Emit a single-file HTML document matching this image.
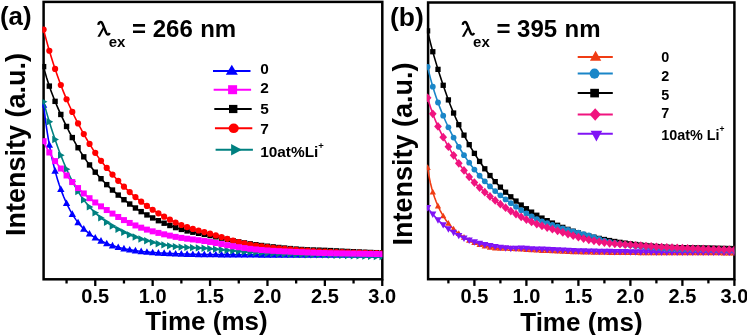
<!DOCTYPE html>
<html><head><meta charset="utf-8"><style>
html,body{margin:0;padding:0;background:#fff;overflow:hidden}
svg{display:block;will-change:transform}
</style></head><body>
<svg width="747" height="335" viewBox="0 0 747 335">
<defs>
<clipPath id="ca"><rect x="42.35" y="1.9" width="339.95" height="277.40"/></clipPath>
<clipPath id="cb"><rect x="426.85" y="2.5" width="307.55" height="276.70"/></clipPath>
</defs>
<rect width="747" height="335" fill="#fff"/>
<rect x="43.6" y="1.9" width="338.70" height="277.40" fill="none" stroke="#000" stroke-width="2.5"/><line x1="66.56" y1="279.3" x2="66.56" y2="283.50" stroke="#000" stroke-width="2.3"/><line x1="95.26" y1="279.3" x2="95.26" y2="286.00" stroke="#000" stroke-width="2.3"/><line x1="123.96" y1="279.3" x2="123.96" y2="283.50" stroke="#000" stroke-width="2.3"/><line x1="152.66" y1="279.3" x2="152.66" y2="286.00" stroke="#000" stroke-width="2.3"/><line x1="181.36" y1="279.3" x2="181.36" y2="283.50" stroke="#000" stroke-width="2.3"/><line x1="210.06" y1="279.3" x2="210.06" y2="286.00" stroke="#000" stroke-width="2.3"/><line x1="238.76" y1="279.3" x2="238.76" y2="283.50" stroke="#000" stroke-width="2.3"/><line x1="267.46" y1="279.3" x2="267.46" y2="286.00" stroke="#000" stroke-width="2.3"/><line x1="296.16" y1="279.3" x2="296.16" y2="283.50" stroke="#000" stroke-width="2.3"/><line x1="324.86" y1="279.3" x2="324.86" y2="286.00" stroke="#000" stroke-width="2.3"/><line x1="353.56" y1="279.3" x2="353.56" y2="283.50" stroke="#000" stroke-width="2.3"/><line x1="382.26" y1="279.3" x2="382.26" y2="286.00" stroke="#000" stroke-width="2.3"/>
<rect x="428.1" y="2.5" width="306.30" height="276.70" fill="none" stroke="#000" stroke-width="2.5"/><line x1="448.40" y1="279.2" x2="448.40" y2="283.40" stroke="#000" stroke-width="2.3"/><line x1="474.40" y1="279.2" x2="474.40" y2="285.90" stroke="#000" stroke-width="2.3"/><line x1="500.40" y1="279.2" x2="500.40" y2="283.40" stroke="#000" stroke-width="2.3"/><line x1="526.40" y1="279.2" x2="526.40" y2="285.90" stroke="#000" stroke-width="2.3"/><line x1="552.40" y1="279.2" x2="552.40" y2="283.40" stroke="#000" stroke-width="2.3"/><line x1="578.40" y1="279.2" x2="578.40" y2="285.90" stroke="#000" stroke-width="2.3"/><line x1="604.40" y1="279.2" x2="604.40" y2="283.40" stroke="#000" stroke-width="2.3"/><line x1="630.40" y1="279.2" x2="630.40" y2="285.90" stroke="#000" stroke-width="2.3"/><line x1="656.40" y1="279.2" x2="656.40" y2="283.40" stroke="#000" stroke-width="2.3"/><line x1="682.40" y1="279.2" x2="682.40" y2="285.90" stroke="#000" stroke-width="2.3"/><line x1="708.40" y1="279.2" x2="708.40" y2="283.40" stroke="#000" stroke-width="2.3"/><line x1="734.40" y1="279.2" x2="734.40" y2="285.90" stroke="#000" stroke-width="2.3"/>
<g clip-path="url(#ca)"><path d="M43.60 104.94 L45.15 117.74 L46.69 128.85 L48.24 138.61 L49.79 147.28 L51.33 155.04 L52.88 162.02 L54.42 168.35 L55.97 174.12 L57.52 179.40 L59.06 184.25 L60.61 188.74 L62.16 192.90 L63.70 196.78 L65.25 200.41 L66.80 203.79 L68.34 206.96 L69.89 209.92 L71.44 212.68 L72.98 215.25 L74.53 217.65 L76.07 219.87 L77.62 221.94 L79.17 223.87 L80.71 225.66 L82.26 227.33 L83.81 228.88 L85.35 230.34 L86.90 231.69 L88.45 232.97 L89.99 234.16 L91.54 235.29 L93.08 236.35 L94.63 237.35 L96.18 238.30 L97.72 239.19 L99.27 240.04 L100.82 240.83 L102.36 241.59 L103.91 242.30 L105.46 242.98 L107.00 243.61 L108.55 244.21 L110.09 244.78 L111.64 245.32 L113.19 245.83 L114.73 246.31 L116.28 246.76 L117.83 247.19 L119.37 247.59 L120.92 247.98 L122.47 248.34 L124.01 248.68 L125.56 249.00 L127.11 249.31 L128.65 249.60 L130.20 249.87 L131.74 250.13 L133.29 250.38 L134.84 250.61 L136.38 250.83 L137.93 251.04 L139.48 251.23 L141.02 251.41 L142.57 251.58 L144.12 251.74 L145.66 251.89 L147.21 252.03 L148.75 252.16 L150.30 252.29 L151.85 252.41 L153.39 252.53 L154.94 252.64 L156.49 252.75 L158.03 252.85 L159.58 252.95 L161.13 253.04 L162.67 253.13 L164.22 253.22 L165.77 253.30 L167.31 253.38 L168.86 253.45 L170.40 253.52 L171.95 253.59 L173.50 253.65 L175.04 253.71 L176.59 253.77 L178.14 253.82 L179.68 253.87 L181.23 253.92 L182.78 253.97 L184.32 254.02 L185.87 254.06 L187.41 254.10 L188.96 254.14 L190.51 254.18 L192.05 254.21 L193.60 254.25 L195.15 254.28 L196.69 254.31 L198.24 254.34 L199.79 254.36 L201.33 254.39 L202.88 254.41 L204.42 254.44 L205.97 254.46 L207.52 254.48 L209.06 254.50 L210.61 254.52 L212.16 254.54 L213.70 254.55 L215.25 254.57 L216.80 254.58 L218.34 254.60 L219.89 254.61 L221.44 254.63 L222.98 254.64 L224.53 254.65 L226.07 254.67 L227.62 254.68 L229.17 254.69 L230.71 254.70 L232.26 254.71 L233.81 254.72 L235.35 254.73 L236.90 254.74 L238.45 254.75 L239.99 254.76 L241.54 254.76 L243.08 254.77 L244.63 254.78 L246.18 254.78 L247.72 254.79 L249.27 254.80 L250.82 254.80 L252.36 254.81 L253.91 254.81 L255.46 254.82 L257.00 254.82 L258.55 254.83 L260.09 254.83 L261.64 254.84 L263.19 254.84 L264.73 254.85 L266.28 254.85 L267.83 254.85 L269.37 254.86 L270.92 254.86 L272.47 254.86 L274.01 254.87 L275.56 254.87 L277.11 254.87 L278.65 254.87 L280.20 254.88 L281.74 254.88 L283.29 254.88 L284.84 254.88 L286.38 254.88 L287.93 254.89 L289.48 254.89 L291.02 254.89 L292.57 254.89 L294.12 254.89 L295.66 254.89 L297.21 254.90 L298.75 254.90 L300.30 254.90 L301.85 254.90 L303.39 254.90 L304.94 254.90 L306.49 254.90 L308.03 254.90 L309.58 254.90 L311.13 254.90 L312.67 254.90 L314.22 254.90 L315.77 254.90 L317.31 254.90 L318.86 254.90 L320.40 254.89 L321.95 254.89 L323.50 254.89 L325.04 254.89 L326.59 254.89 L328.14 254.89 L329.68 254.89 L331.23 254.89 L332.78 254.89 L334.32 254.89 L335.87 254.89 L337.41 254.89 L338.96 254.89 L340.51 254.89 L342.05 254.89 L343.60 254.90 L345.15 254.90 L346.69 254.90 L348.24 254.90 L349.79 254.90 L351.33 254.90 L352.88 254.90 L354.42 254.90 L355.97 254.90 L357.52 254.90 L359.06 254.90 L360.61 254.90 L362.16 254.90 L363.70 254.90 L365.25 254.90 L366.80 254.90 L368.34 254.90 L369.89 254.90 L371.44 254.90 L372.98 254.90 L374.53 254.90 L376.07 254.90 L377.62 254.90 L379.17 254.90 L380.71 254.90 L382.26 254.90" fill="none" stroke="#0000ff" stroke-width="1.6" stroke-linejoin="round"/><path d="M43.60 101.09L47.27 107.74L39.93 107.74Z" fill="#0000ff"/><path d="M49.34 141.03L53.02 147.68L45.67 147.68Z" fill="#0000ff"/><path d="M55.08 167.01L58.75 173.66L51.41 173.66Z" fill="#0000ff"/><path d="M60.82 185.47L64.50 192.12L57.15 192.12Z" fill="#0000ff"/><path d="M66.56 199.44L70.23 206.09L62.89 206.09Z" fill="#0000ff"/><path d="M72.30 210.29L75.98 216.94L68.63 216.94Z" fill="#0000ff"/><path d="M78.04 218.63L81.71 225.28L74.36 225.28Z" fill="#0000ff"/><path d="M83.78 225.01L87.45 231.66L80.11 231.66Z" fill="#0000ff"/><path d="M89.52 229.96L93.19 236.61L85.84 236.61Z" fill="#0000ff"/><path d="M95.26 233.89L98.93 240.54L91.58 240.54Z" fill="#0000ff"/><path d="M101.00 237.08L104.67 243.73L97.33 243.73Z" fill="#0000ff"/><path d="M106.74 239.66L110.42 246.31L103.07 246.31Z" fill="#0000ff"/><path d="M112.48 241.75L116.16 248.40L108.81 248.40Z" fill="#0000ff"/><path d="M118.22 243.44L121.89 250.09L114.55 250.09Z" fill="#0000ff"/><path d="M123.96 244.82L127.63 251.47L120.28 251.47Z" fill="#0000ff"/><path d="M129.70 245.94L133.38 252.59L126.02 252.59Z" fill="#0000ff"/><path d="M135.44 246.85L139.12 253.50L131.76 253.50Z" fill="#0000ff"/><path d="M141.18 247.58L144.86 254.23L137.50 254.23Z" fill="#0000ff"/><path d="M146.92 248.15L150.60 254.80L143.25 254.80Z" fill="#0000ff"/><path d="M152.66 248.63L156.34 255.28L148.98 255.28Z" fill="#0000ff"/><path d="M158.40 249.03L162.08 255.68L154.72 255.68Z" fill="#0000ff"/><path d="M164.14 249.36L167.81 256.01L160.46 256.01Z" fill="#0000ff"/><path d="M169.88 249.65L173.56 256.30L166.20 256.30Z" fill="#0000ff"/><path d="M175.62 249.88L179.30 256.53L171.94 256.53Z" fill="#0000ff"/><path d="M181.36 250.08L185.04 256.73L177.69 256.73Z" fill="#0000ff"/><path d="M187.10 250.24L190.78 256.89L183.43 256.89Z" fill="#0000ff"/><path d="M192.84 250.38L196.52 257.03L189.17 257.03Z" fill="#0000ff"/><path d="M198.58 250.49L202.25 257.14L194.90 257.14Z" fill="#0000ff"/><path d="M204.32 250.59L208.00 257.24L200.64 257.24Z" fill="#0000ff"/><path d="M210.06 250.66L213.74 257.31L206.38 257.31Z" fill="#0000ff"/><path d="M215.80 250.72L219.48 257.37L212.12 257.37Z" fill="#0000ff"/><path d="M221.54 250.78L225.22 257.43L217.87 257.43Z" fill="#0000ff"/><path d="M227.28 250.83L230.96 257.48L223.61 257.48Z" fill="#0000ff"/><path d="M233.02 250.87L236.70 257.52L229.35 257.52Z" fill="#0000ff"/><path d="M238.76 250.90L242.44 257.55L235.08 257.55Z" fill="#0000ff"/><path d="M244.50 250.93L248.18 257.58L240.82 257.58Z" fill="#0000ff"/><path d="M250.24 250.95L253.92 257.60L246.56 257.60Z" fill="#0000ff"/><path d="M255.98 250.97L259.66 257.62L252.31 257.62Z" fill="#0000ff"/><path d="M261.72 250.99L265.40 257.64L258.05 257.64Z" fill="#0000ff"/><path d="M267.46 251.00L271.13 257.65L263.78 257.65Z" fill="#0000ff"/><path d="M273.20 251.01L276.88 257.66L269.53 257.66Z" fill="#0000ff"/><path d="M278.94 251.02L282.62 257.67L275.26 257.67Z" fill="#0000ff"/><path d="M284.68 251.03L288.36 257.68L281.00 257.68Z" fill="#0000ff"/><path d="M290.42 251.04L294.10 257.69L286.75 257.69Z" fill="#0000ff"/><path d="M296.16 251.04L299.84 257.69L292.49 257.69Z" fill="#0000ff"/><path d="M301.90 251.05L305.58 257.70L298.23 257.70Z" fill="#0000ff"/><path d="M307.64 251.05L311.32 257.70L303.97 257.70Z" fill="#0000ff"/><path d="M313.38 251.05L317.06 257.70L309.71 257.70Z" fill="#0000ff"/><path d="M319.12 251.04L322.80 257.69L315.44 257.69Z" fill="#0000ff"/><path d="M324.86 251.04L328.54 257.69L321.19 257.69Z" fill="#0000ff"/><path d="M330.60 251.04L334.28 257.69L326.93 257.69Z" fill="#0000ff"/><path d="M336.34 251.04L340.02 257.69L332.67 257.69Z" fill="#0000ff"/><path d="M342.08 251.05L345.76 257.70L338.41 257.70Z" fill="#0000ff"/><path d="M347.82 251.05L351.50 257.70L344.15 257.70Z" fill="#0000ff"/><path d="M353.56 251.05L357.24 257.70L349.88 257.70Z" fill="#0000ff"/><path d="M359.30 251.05L362.98 257.70L355.62 257.70Z" fill="#0000ff"/><path d="M365.04 251.05L368.72 257.70L361.37 257.70Z" fill="#0000ff"/><path d="M370.78 251.05L374.46 257.70L367.11 257.70Z" fill="#0000ff"/><path d="M376.52 251.05L380.20 257.70L372.85 257.70Z" fill="#0000ff"/><path d="M382.26 251.05L385.94 257.70L378.58 257.70Z" fill="#0000ff"/></g>
<g clip-path="url(#ca)"><path d="M43.60 101.73 L45.15 107.41 L46.69 112.86 L48.24 118.12 L49.79 123.22 L51.33 128.16 L52.88 132.95 L54.42 137.60 L55.97 142.11 L57.52 146.46 L59.06 150.66 L60.61 154.73 L62.16 158.66 L63.70 162.46 L65.25 166.14 L66.80 169.69 L68.34 173.11 L69.89 176.40 L71.44 179.56 L72.98 182.58 L74.53 185.46 L76.07 188.19 L77.62 190.79 L79.17 193.26 L80.71 195.59 L82.26 197.82 L83.81 199.93 L85.35 201.94 L86.90 203.86 L88.45 205.69 L89.99 207.44 L91.54 209.11 L93.08 210.72 L94.63 212.25 L96.18 213.72 L97.72 215.13 L99.27 216.47 L100.82 217.76 L102.36 219.00 L103.91 220.19 L105.46 221.33 L107.00 222.43 L108.55 223.48 L110.09 224.50 L111.64 225.48 L113.19 226.43 L114.73 227.35 L116.28 228.23 L117.83 229.09 L119.37 229.92 L120.92 230.73 L122.47 231.50 L124.01 232.26 L125.56 232.98 L127.11 233.68 L128.65 234.36 L130.20 235.01 L131.74 235.64 L133.29 236.24 L134.84 236.83 L136.38 237.39 L137.93 237.94 L139.48 238.46 L141.02 238.97 L142.57 239.47 L144.12 239.94 L145.66 240.41 L147.21 240.86 L148.75 241.30 L150.30 241.73 L151.85 242.14 L153.39 242.54 L154.94 242.93 L156.49 243.30 L158.03 243.65 L159.58 243.99 L161.13 244.31 L162.67 244.62 L164.22 244.91 L165.77 245.19 L167.31 245.45 L168.86 245.70 L170.40 245.93 L171.95 246.14 L173.50 246.34 L175.04 246.53 L176.59 246.69 L178.14 246.84 L179.68 246.98 L181.23 247.09 L182.78 247.20 L184.32 247.29 L185.87 247.37 L187.41 247.44 L188.96 247.50 L190.51 247.56 L192.05 247.63 L193.60 247.69 L195.15 247.76 L196.69 247.83 L198.24 247.90 L199.79 247.98 L201.33 248.07 L202.88 248.16 L204.42 248.26 L205.97 248.37 L207.52 248.48 L209.06 248.59 L210.61 248.71 L212.16 248.84 L213.70 248.97 L215.25 249.11 L216.80 249.25 L218.34 249.40 L219.89 249.54 L221.44 249.70 L222.98 249.85 L224.53 250.00 L226.07 250.16 L227.62 250.31 L229.17 250.47 L230.71 250.62 L232.26 250.77 L233.81 250.91 L235.35 251.06 L236.90 251.19 L238.45 251.33 L239.99 251.46 L241.54 251.59 L243.08 251.71 L244.63 251.82 L246.18 251.94 L247.72 252.05 L249.27 252.16 L250.82 252.26 L252.36 252.36 L253.91 252.46 L255.46 252.55 L257.00 252.64 L258.55 252.73 L260.09 252.82 L261.64 252.90 L263.19 252.99 L264.73 253.07 L266.28 253.15 L267.83 253.23 L269.37 253.30 L270.92 253.38 L272.47 253.45 L274.01 253.52 L275.56 253.60 L277.11 253.67 L278.65 253.74 L280.20 253.81 L281.74 253.87 L283.29 253.94 L284.84 254.01 L286.38 254.07 L287.93 254.14 L289.48 254.20 L291.02 254.26 L292.57 254.32 L294.12 254.38 L295.66 254.44 L297.21 254.49 L298.75 254.54 L300.30 254.59 L301.85 254.64 L303.39 254.68 L304.94 254.71 L306.49 254.74 L308.03 254.76 L309.58 254.78 L311.13 254.79 L312.67 254.80 L314.22 254.81 L315.77 254.81 L317.31 254.82 L318.86 254.83 L320.40 254.84 L321.95 254.86 L323.50 254.88 L325.04 254.91 L326.59 254.94 L328.14 254.98 L329.68 255.01 L331.23 255.05 L332.78 255.10 L334.32 255.14 L335.87 255.19 L337.41 255.23 L338.96 255.28 L340.51 255.33 L342.05 255.38 L343.60 255.43 L345.15 255.48 L346.69 255.53 L348.24 255.58 L349.79 255.63 L351.33 255.68 L352.88 255.73 L354.42 255.78 L355.97 255.83 L357.52 255.88 L359.06 255.93 L360.61 255.98 L362.16 256.03 L363.70 256.08 L365.25 256.13 L366.80 256.18 L368.34 256.23 L369.89 256.28 L371.44 256.33 L372.98 256.38 L374.53 256.43 L376.07 256.48 L377.62 256.53 L379.17 256.57 L380.71 256.62 L382.26 256.67" fill="none" stroke="#008080" stroke-width="1.6" stroke-linejoin="round"/><path d="M47.45 101.73L40.80 98.06L40.80 105.41Z" fill="#008080"/><path d="M53.19 121.76L46.54 118.09L46.54 125.44Z" fill="#008080"/><path d="M58.93 139.53L52.28 135.86L52.28 143.21Z" fill="#008080"/><path d="M64.67 155.27L58.02 151.59L58.02 158.94Z" fill="#008080"/><path d="M70.41 169.15L63.76 165.48L63.76 172.83Z" fill="#008080"/><path d="M76.15 181.27L69.50 177.59L69.50 184.94Z" fill="#008080"/><path d="M81.89 191.47L75.24 187.80L75.24 195.15Z" fill="#008080"/><path d="M87.63 199.89L80.98 196.22L80.98 203.57Z" fill="#008080"/><path d="M93.37 206.91L86.72 203.24L86.72 210.59Z" fill="#008080"/><path d="M99.11 212.86L92.46 209.18L92.46 216.53Z" fill="#008080"/><path d="M104.85 217.91L98.20 214.24L98.20 221.59Z" fill="#008080"/><path d="M110.59 222.24L103.94 218.57L103.94 225.92Z" fill="#008080"/><path d="M116.33 226.00L109.68 222.32L109.68 229.67Z" fill="#008080"/><path d="M122.07 229.31L115.42 225.63L115.42 232.98Z" fill="#008080"/><path d="M127.81 232.23L121.16 228.56L121.16 235.91Z" fill="#008080"/><path d="M133.55 234.80L126.90 231.13L126.90 238.48Z" fill="#008080"/><path d="M139.29 237.05L132.64 233.37L132.64 240.72Z" fill="#008080"/><path d="M145.03 239.02L138.38 235.35L138.38 242.70Z" fill="#008080"/><path d="M150.77 240.78L144.12 237.10L144.12 244.45Z" fill="#008080"/><path d="M156.51 242.36L149.86 238.68L149.86 246.03Z" fill="#008080"/><path d="M162.25 243.73L155.60 240.06L155.60 247.41Z" fill="#008080"/><path d="M167.99 244.90L161.34 241.22L161.34 248.57Z" fill="#008080"/><path d="M173.73 245.85L167.08 242.18L167.08 249.53Z" fill="#008080"/><path d="M179.47 246.59L172.82 242.92L172.82 250.27Z" fill="#008080"/><path d="M185.21 247.10L178.56 243.43L178.56 250.78Z" fill="#008080"/><path d="M190.95 247.42L184.30 243.75L184.30 251.10Z" fill="#008080"/><path d="M196.69 247.66L190.04 243.98L190.04 251.33Z" fill="#008080"/><path d="M202.43 247.92L195.78 244.24L195.78 251.59Z" fill="#008080"/><path d="M208.17 248.25L201.52 244.58L201.52 251.93Z" fill="#008080"/><path d="M213.91 248.67L207.26 245.00L207.26 252.35Z" fill="#008080"/><path d="M219.65 249.16L213.00 245.48L213.00 252.83Z" fill="#008080"/><path d="M225.39 249.71L218.74 246.03L218.74 253.38Z" fill="#008080"/><path d="M231.13 250.28L224.48 246.61L224.48 253.96Z" fill="#008080"/><path d="M236.87 250.84L230.22 247.17L230.22 254.52Z" fill="#008080"/><path d="M242.61 251.36L235.96 247.68L235.96 255.03Z" fill="#008080"/><path d="M248.35 251.81L241.70 248.14L241.70 255.49Z" fill="#008080"/><path d="M254.09 252.22L247.44 248.55L247.44 255.90Z" fill="#008080"/><path d="M259.83 252.58L253.18 248.91L253.18 256.26Z" fill="#008080"/><path d="M265.57 252.91L258.92 249.23L258.92 256.58Z" fill="#008080"/><path d="M271.31 253.21L264.66 249.53L264.66 256.88Z" fill="#008080"/><path d="M277.05 253.49L270.40 249.81L270.40 257.16Z" fill="#008080"/><path d="M282.79 253.75L276.14 250.08L276.14 257.43Z" fill="#008080"/><path d="M288.53 254.00L281.88 250.33L281.88 257.68Z" fill="#008080"/><path d="M294.27 254.24L287.62 250.56L287.62 257.91Z" fill="#008080"/><path d="M300.01 254.46L293.36 250.78L293.36 258.13Z" fill="#008080"/><path d="M305.75 254.64L299.10 250.96L299.10 258.31Z" fill="#008080"/><path d="M311.49 254.76L304.84 251.08L304.84 258.43Z" fill="#008080"/><path d="M317.23 254.80L310.58 251.13L310.58 258.48Z" fill="#008080"/><path d="M322.97 254.83L316.32 251.16L316.32 258.51Z" fill="#008080"/><path d="M328.71 254.91L322.06 251.23L322.06 258.58Z" fill="#008080"/><path d="M334.45 255.04L327.80 251.36L327.80 258.71Z" fill="#008080"/><path d="M340.19 255.20L333.54 251.53L333.54 258.88Z" fill="#008080"/><path d="M345.93 255.38L339.28 251.71L339.28 259.06Z" fill="#008080"/><path d="M351.67 255.57L345.02 251.89L345.02 259.24Z" fill="#008080"/><path d="M357.41 255.75L350.76 252.08L350.76 259.43Z" fill="#008080"/><path d="M363.15 255.94L356.50 252.27L356.50 259.62Z" fill="#008080"/><path d="M368.89 256.13L362.24 252.45L362.24 259.80Z" fill="#008080"/><path d="M374.63 256.31L367.98 252.63L367.98 259.98Z" fill="#008080"/><path d="M380.37 256.49L373.72 252.82L373.72 260.17Z" fill="#008080"/><path d="M386.11 256.67L379.46 253.00L379.46 260.35Z" fill="#008080"/></g>
<g clip-path="url(#ca)"><path d="M43.60 66.66 L45.15 72.61 L46.69 77.93 L48.24 82.83 L49.79 87.40 L51.33 91.72 L52.88 95.82 L54.42 99.73 L55.97 103.48 L57.52 107.10 L59.06 110.60 L60.61 114.00 L62.16 117.33 L63.70 120.59 L65.25 123.79 L66.80 126.93 L68.34 130.00 L69.89 133.02 L71.44 135.96 L72.98 138.84 L74.53 141.65 L76.07 144.38 L77.62 147.04 L79.17 149.62 L80.71 152.12 L82.26 154.54 L83.81 156.88 L85.35 159.16 L86.90 161.36 L88.45 163.49 L89.99 165.56 L91.54 167.58 L93.08 169.53 L94.63 171.43 L96.18 173.27 L97.72 175.06 L99.27 176.81 L100.82 178.51 L102.36 180.16 L103.91 181.78 L105.46 183.35 L107.00 184.89 L108.55 186.39 L110.09 187.86 L111.64 189.30 L113.19 190.70 L114.73 192.08 L116.28 193.43 L117.83 194.75 L119.37 196.04 L120.92 197.31 L122.47 198.55 L124.01 199.77 L125.56 200.96 L127.11 202.13 L128.65 203.27 L130.20 204.39 L131.74 205.48 L133.29 206.55 L134.84 207.59 L136.38 208.61 L137.93 209.61 L139.48 210.58 L141.02 211.52 L142.57 212.45 L144.12 213.35 L145.66 214.22 L147.21 215.08 L148.75 215.91 L150.30 216.73 L151.85 217.52 L153.39 218.30 L154.94 219.06 L156.49 219.80 L158.03 220.52 L159.58 221.22 L161.13 221.91 L162.67 222.58 L164.22 223.24 L165.77 223.88 L167.31 224.51 L168.86 225.12 L170.40 225.71 L171.95 226.29 L173.50 226.85 L175.04 227.39 L176.59 227.92 L178.14 228.42 L179.68 228.91 L181.23 229.38 L182.78 229.82 L184.32 230.24 L185.87 230.64 L187.41 231.02 L188.96 231.37 L190.51 231.71 L192.05 232.04 L193.60 232.35 L195.15 232.65 L196.69 232.95 L198.24 233.24 L199.79 233.53 L201.33 233.83 L202.88 234.13 L204.42 234.43 L205.97 234.74 L207.52 235.06 L209.06 235.38 L210.61 235.70 L212.16 236.03 L213.70 236.37 L215.25 236.71 L216.80 237.06 L218.34 237.41 L219.89 237.76 L221.44 238.11 L222.98 238.46 L224.53 238.82 L226.07 239.17 L227.62 239.52 L229.17 239.86 L230.71 240.20 L232.26 240.53 L233.81 240.86 L235.35 241.18 L236.90 241.49 L238.45 241.80 L239.99 242.09 L241.54 242.38 L243.08 242.66 L244.63 242.94 L246.18 243.20 L247.72 243.46 L249.27 243.71 L250.82 243.95 L252.36 244.19 L253.91 244.42 L255.46 244.65 L257.00 244.86 L258.55 245.08 L260.09 245.29 L261.64 245.49 L263.19 245.69 L264.73 245.89 L266.28 246.08 L267.83 246.26 L269.37 246.44 L270.92 246.62 L272.47 246.80 L274.01 246.97 L275.56 247.14 L277.11 247.30 L278.65 247.46 L280.20 247.62 L281.74 247.77 L283.29 247.93 L284.84 248.08 L286.38 248.22 L287.93 248.36 L289.48 248.50 L291.02 248.64 L292.57 248.77 L294.12 248.90 L295.66 249.03 L297.21 249.15 L298.75 249.26 L300.30 249.37 L301.85 249.48 L303.39 249.57 L304.94 249.66 L306.49 249.74 L308.03 249.81 L309.58 249.87 L311.13 249.92 L312.67 249.97 L314.22 250.01 L315.77 250.05 L317.31 250.09 L318.86 250.14 L320.40 250.18 L321.95 250.23 L323.50 250.29 L325.04 250.35 L326.59 250.41 L328.14 250.48 L329.68 250.55 L331.23 250.63 L332.78 250.70 L334.32 250.78 L335.87 250.86 L337.41 250.93 L338.96 251.01 L340.51 251.09 L342.05 251.16 L343.60 251.24 L345.15 251.32 L346.69 251.39 L348.24 251.47 L349.79 251.54 L351.33 251.61 L352.88 251.69 L354.42 251.76 L355.97 251.83 L357.52 251.90 L359.06 251.96 L360.61 252.03 L362.16 252.10 L363.70 252.16 L365.25 252.23 L366.80 252.29 L368.34 252.36 L369.89 252.42 L371.44 252.48 L372.98 252.54 L374.53 252.60 L376.07 252.66 L377.62 252.71 L379.17 252.77 L380.71 252.83 L382.26 252.88" fill="none" stroke="#000000" stroke-width="1.6" stroke-linejoin="round"/><rect x="40.90" y="63.96" width="5.40" height="5.40" fill="#000000"/><rect x="46.64" y="83.41" width="5.40" height="5.40" fill="#000000"/><rect x="52.38" y="98.64" width="5.40" height="5.40" fill="#000000"/><rect x="58.12" y="111.76" width="5.40" height="5.40" fill="#000000"/><rect x="63.86" y="123.75" width="5.40" height="5.40" fill="#000000"/><rect x="69.60" y="134.88" width="5.40" height="5.40" fill="#000000"/><rect x="75.34" y="145.04" width="5.40" height="5.40" fill="#000000"/><rect x="81.08" y="154.14" width="5.40" height="5.40" fill="#000000"/><rect x="86.82" y="162.24" width="5.40" height="5.40" fill="#000000"/><rect x="92.56" y="169.48" width="5.40" height="5.40" fill="#000000"/><rect x="98.30" y="176.01" width="5.40" height="5.40" fill="#000000"/><rect x="104.04" y="181.93" width="5.40" height="5.40" fill="#000000"/><rect x="109.78" y="187.36" width="5.40" height="5.40" fill="#000000"/><rect x="115.52" y="192.38" width="5.40" height="5.40" fill="#000000"/><rect x="121.26" y="197.03" width="5.40" height="5.40" fill="#000000"/><rect x="127.00" y="201.33" width="5.40" height="5.40" fill="#000000"/><rect x="132.74" y="205.29" width="5.40" height="5.40" fill="#000000"/><rect x="138.48" y="208.92" width="5.40" height="5.40" fill="#000000"/><rect x="144.22" y="212.22" width="5.40" height="5.40" fill="#000000"/><rect x="149.96" y="215.23" width="5.40" height="5.40" fill="#000000"/><rect x="155.70" y="217.99" width="5.40" height="5.40" fill="#000000"/><rect x="161.44" y="220.51" width="5.40" height="5.40" fill="#000000"/><rect x="167.18" y="222.81" width="5.40" height="5.40" fill="#000000"/><rect x="172.92" y="224.89" width="5.40" height="5.40" fill="#000000"/><rect x="178.66" y="226.71" width="5.40" height="5.40" fill="#000000"/><rect x="184.40" y="228.24" width="5.40" height="5.40" fill="#000000"/><rect x="190.14" y="229.50" width="5.40" height="5.40" fill="#000000"/><rect x="195.88" y="230.61" width="5.40" height="5.40" fill="#000000"/><rect x="201.62" y="231.71" width="5.40" height="5.40" fill="#000000"/><rect x="207.36" y="232.88" width="5.40" height="5.40" fill="#000000"/><rect x="213.10" y="234.13" width="5.40" height="5.40" fill="#000000"/><rect x="218.84" y="235.43" width="5.40" height="5.40" fill="#000000"/><rect x="224.58" y="236.74" width="5.40" height="5.40" fill="#000000"/><rect x="230.32" y="238.00" width="5.40" height="5.40" fill="#000000"/><rect x="236.06" y="239.16" width="5.40" height="5.40" fill="#000000"/><rect x="241.80" y="240.21" width="5.40" height="5.40" fill="#000000"/><rect x="247.54" y="241.16" width="5.40" height="5.40" fill="#000000"/><rect x="253.28" y="242.02" width="5.40" height="5.40" fill="#000000"/><rect x="259.02" y="242.80" width="5.40" height="5.40" fill="#000000"/><rect x="264.76" y="243.52" width="5.40" height="5.40" fill="#000000"/><rect x="270.50" y="244.18" width="5.40" height="5.40" fill="#000000"/><rect x="276.24" y="244.79" width="5.40" height="5.40" fill="#000000"/><rect x="281.98" y="245.36" width="5.40" height="5.40" fill="#000000"/><rect x="287.72" y="245.89" width="5.40" height="5.40" fill="#000000"/><rect x="293.46" y="246.37" width="5.40" height="5.40" fill="#000000"/><rect x="299.20" y="246.78" width="5.40" height="5.40" fill="#000000"/><rect x="304.94" y="247.09" width="5.40" height="5.40" fill="#000000"/><rect x="310.68" y="247.29" width="5.40" height="5.40" fill="#000000"/><rect x="316.42" y="247.44" width="5.40" height="5.40" fill="#000000"/><rect x="322.16" y="247.64" width="5.40" height="5.40" fill="#000000"/><rect x="327.90" y="247.90" width="5.40" height="5.40" fill="#000000"/><rect x="333.64" y="248.18" width="5.40" height="5.40" fill="#000000"/><rect x="339.38" y="248.47" width="5.40" height="5.40" fill="#000000"/><rect x="345.12" y="248.75" width="5.40" height="5.40" fill="#000000"/><rect x="350.86" y="249.02" width="5.40" height="5.40" fill="#000000"/><rect x="356.60" y="249.27" width="5.40" height="5.40" fill="#000000"/><rect x="362.34" y="249.52" width="5.40" height="5.40" fill="#000000"/><rect x="368.08" y="249.75" width="5.40" height="5.40" fill="#000000"/><rect x="373.82" y="249.97" width="5.40" height="5.40" fill="#000000"/><rect x="379.56" y="250.18" width="5.40" height="5.40" fill="#000000"/></g>
<g clip-path="url(#ca)"><path d="M43.60 29.58 L45.15 35.63 L46.69 41.41 L48.24 46.95 L49.79 52.25 L51.33 57.34 L52.88 62.25 L54.42 66.98 L55.97 71.55 L57.52 75.98 L59.06 80.28 L60.61 84.44 L62.16 88.46 L63.70 92.36 L65.25 96.13 L66.80 99.78 L68.34 103.31 L69.89 106.74 L71.44 110.08 L72.98 113.32 L74.53 116.49 L76.07 119.58 L77.62 122.60 L79.17 125.56 L80.71 128.46 L82.26 131.30 L83.81 134.09 L85.35 136.82 L86.90 139.49 L88.45 142.11 L89.99 144.66 L91.54 147.15 L93.08 149.57 L94.63 151.92 L96.18 154.19 L97.72 156.38 L99.27 158.51 L100.82 160.57 L102.36 162.56 L103.91 164.51 L105.46 166.41 L107.00 168.26 L108.55 170.08 L110.09 171.87 L111.64 173.62 L113.19 175.35 L114.73 177.05 L116.28 178.72 L117.83 180.37 L119.37 181.99 L120.92 183.59 L122.47 185.15 L124.01 186.69 L125.56 188.20 L127.11 189.68 L128.65 191.13 L130.20 192.54 L131.74 193.93 L133.29 195.28 L134.84 196.60 L136.38 197.89 L137.93 199.14 L139.48 200.37 L141.02 201.57 L142.57 202.74 L144.12 203.88 L145.66 205.00 L147.21 206.09 L148.75 207.16 L150.30 208.21 L151.85 209.23 L153.39 210.23 L154.94 211.22 L156.49 212.18 L158.03 213.12 L159.58 214.04 L161.13 214.95 L162.67 215.84 L164.22 216.70 L165.77 217.55 L167.31 218.38 L168.86 219.19 L170.40 219.99 L171.95 220.76 L173.50 221.51 L175.04 222.24 L176.59 222.95 L178.14 223.64 L179.68 224.30 L181.23 224.94 L182.78 225.55 L184.32 226.13 L185.87 226.69 L187.41 227.22 L188.96 227.72 L190.51 228.21 L192.05 228.67 L193.60 229.12 L195.15 229.56 L196.69 229.99 L198.24 230.41 L199.79 230.83 L201.33 231.25 L202.88 231.68 L204.42 232.10 L205.97 232.53 L207.52 232.97 L209.06 233.41 L210.61 233.85 L212.16 234.30 L213.70 234.76 L215.25 235.22 L216.80 235.68 L218.34 236.15 L219.89 236.62 L221.44 237.09 L222.98 237.56 L224.53 238.02 L226.07 238.49 L227.62 238.94 L229.17 239.40 L230.71 239.84 L232.26 240.28 L233.81 240.70 L235.35 241.12 L236.90 241.52 L238.45 241.91 L239.99 242.29 L241.54 242.65 L243.08 243.01 L244.63 243.35 L246.18 243.68 L247.72 244.00 L249.27 244.31 L250.82 244.61 L252.36 244.89 L253.91 245.17 L255.46 245.43 L257.00 245.69 L258.55 245.93 L260.09 246.17 L261.64 246.39 L263.19 246.61 L264.73 246.82 L266.28 247.02 L267.83 247.22 L269.37 247.41 L270.92 247.59 L272.47 247.76 L274.01 247.93 L275.56 248.09 L277.11 248.25 L278.65 248.41 L280.20 248.55 L281.74 248.70 L283.29 248.84 L284.84 248.98 L286.38 249.12 L287.93 249.25 L289.48 249.38 L291.02 249.50 L292.57 249.62 L294.12 249.74 L295.66 249.86 L297.21 249.97 L298.75 250.08 L300.30 250.19 L301.85 250.29 L303.39 250.39 L304.94 250.49 L306.49 250.59 L308.03 250.68 L309.58 250.77 L311.13 250.85 L312.67 250.94 L314.22 251.02 L315.77 251.10 L317.31 251.18 L318.86 251.25 L320.40 251.33 L321.95 251.40 L323.50 251.47 L325.04 251.53 L326.59 251.60 L328.14 251.66 L329.68 251.73 L331.23 251.79 L332.78 251.85 L334.32 251.91 L335.87 251.96 L337.41 252.02 L338.96 252.07 L340.51 252.13 L342.05 252.18 L343.60 252.23 L345.15 252.28 L346.69 252.33 L348.24 252.38 L349.79 252.43 L351.33 252.48 L352.88 252.53 L354.42 252.57 L355.97 252.62 L357.52 252.66 L359.06 252.70 L360.61 252.75 L362.16 252.79 L363.70 252.83 L365.25 252.87 L366.80 252.91 L368.34 252.95 L369.89 252.99 L371.44 253.03 L372.98 253.07 L374.53 253.10 L376.07 253.14 L377.62 253.18 L379.17 253.21 L380.71 253.25 L382.26 253.28" fill="none" stroke="#ff0000" stroke-width="1.6" stroke-linejoin="round"/><circle cx="43.60" cy="29.58" r="3.10" fill="#ff0000"/><circle cx="49.34" cy="50.74" r="3.10" fill="#ff0000"/><circle cx="55.08" cy="68.94" r="3.10" fill="#ff0000"/><circle cx="60.82" cy="84.99" r="3.10" fill="#ff0000"/><circle cx="66.56" cy="99.23" r="3.10" fill="#ff0000"/><circle cx="72.30" cy="111.90" r="3.10" fill="#ff0000"/><circle cx="78.04" cy="123.41" r="3.10" fill="#ff0000"/><circle cx="83.78" cy="134.04" r="3.10" fill="#ff0000"/><circle cx="89.52" cy="143.89" r="3.10" fill="#ff0000"/><circle cx="95.26" cy="152.85" r="3.10" fill="#ff0000"/><circle cx="101.00" cy="160.81" r="3.10" fill="#ff0000"/><circle cx="106.74" cy="167.95" r="3.10" fill="#ff0000"/><circle cx="112.48" cy="174.56" r="3.10" fill="#ff0000"/><circle cx="118.22" cy="180.78" r="3.10" fill="#ff0000"/><circle cx="123.96" cy="186.64" r="3.10" fill="#ff0000"/><circle cx="129.70" cy="192.09" r="3.10" fill="#ff0000"/><circle cx="135.44" cy="197.10" r="3.10" fill="#ff0000"/><circle cx="141.18" cy="201.69" r="3.10" fill="#ff0000"/><circle cx="146.92" cy="205.89" r="3.10" fill="#ff0000"/><circle cx="152.66" cy="209.76" r="3.10" fill="#ff0000"/><circle cx="158.40" cy="213.34" r="3.10" fill="#ff0000"/><circle cx="164.14" cy="216.66" r="3.10" fill="#ff0000"/><circle cx="169.88" cy="219.72" r="3.10" fill="#ff0000"/><circle cx="175.62" cy="222.51" r="3.10" fill="#ff0000"/><circle cx="181.36" cy="224.99" r="3.10" fill="#ff0000"/><circle cx="187.10" cy="227.11" r="3.10" fill="#ff0000"/><circle cx="192.84" cy="228.90" r="3.10" fill="#ff0000"/><circle cx="198.58" cy="230.51" r="3.10" fill="#ff0000"/><circle cx="204.32" cy="232.07" r="3.10" fill="#ff0000"/><circle cx="210.06" cy="233.69" r="3.10" fill="#ff0000"/><circle cx="215.80" cy="235.38" r="3.10" fill="#ff0000"/><circle cx="221.54" cy="237.12" r="3.10" fill="#ff0000"/><circle cx="227.28" cy="238.84" r="3.10" fill="#ff0000"/><circle cx="233.02" cy="240.49" r="3.10" fill="#ff0000"/><circle cx="238.76" cy="241.99" r="3.10" fill="#ff0000"/><circle cx="244.50" cy="243.32" r="3.10" fill="#ff0000"/><circle cx="250.24" cy="244.50" r="3.10" fill="#ff0000"/><circle cx="255.98" cy="245.52" r="3.10" fill="#ff0000"/><circle cx="261.72" cy="246.41" r="3.10" fill="#ff0000"/><circle cx="267.46" cy="247.17" r="3.10" fill="#ff0000"/><circle cx="273.20" cy="247.84" r="3.10" fill="#ff0000"/><circle cx="278.94" cy="248.43" r="3.10" fill="#ff0000"/><circle cx="284.68" cy="248.97" r="3.10" fill="#ff0000"/><circle cx="290.42" cy="249.45" r="3.10" fill="#ff0000"/><circle cx="296.16" cy="249.89" r="3.10" fill="#ff0000"/><circle cx="301.90" cy="250.29" r="3.10" fill="#ff0000"/><circle cx="307.64" cy="250.65" r="3.10" fill="#ff0000"/><circle cx="313.38" cy="250.98" r="3.10" fill="#ff0000"/><circle cx="319.12" cy="251.27" r="3.10" fill="#ff0000"/><circle cx="324.86" cy="251.53" r="3.10" fill="#ff0000"/><circle cx="330.60" cy="251.76" r="3.10" fill="#ff0000"/><circle cx="336.34" cy="251.98" r="3.10" fill="#ff0000"/><circle cx="342.08" cy="252.18" r="3.10" fill="#ff0000"/><circle cx="347.82" cy="252.37" r="3.10" fill="#ff0000"/><circle cx="353.56" cy="252.55" r="3.10" fill="#ff0000"/><circle cx="359.30" cy="252.71" r="3.10" fill="#ff0000"/><circle cx="365.04" cy="252.87" r="3.10" fill="#ff0000"/><circle cx="370.78" cy="253.01" r="3.10" fill="#ff0000"/><circle cx="376.52" cy="253.15" r="3.10" fill="#ff0000"/><circle cx="382.26" cy="253.28" r="3.10" fill="#ff0000"/></g>
<g clip-path="url(#ca)"><path d="M43.60 141.20 L45.15 144.70 L46.69 147.81 L48.24 150.63 L49.79 153.23 L51.33 155.68 L52.88 157.99 L54.42 160.19 L55.97 162.30 L57.52 164.34 L59.06 166.32 L60.61 168.27 L62.16 170.18 L63.70 172.07 L65.25 173.93 L66.80 175.77 L68.34 177.59 L69.89 179.37 L71.44 181.12 L72.98 182.83 L74.53 184.49 L76.07 186.10 L77.62 187.67 L79.17 189.18 L80.71 190.65 L82.26 192.08 L83.81 193.46 L85.35 194.80 L86.90 196.10 L88.45 197.36 L89.99 198.58 L91.54 199.76 L93.08 200.91 L94.63 202.03 L96.18 203.12 L97.72 204.18 L99.27 205.22 L100.82 206.24 L102.36 207.25 L103.91 208.25 L105.46 209.23 L107.00 210.21 L108.55 211.18 L110.09 212.14 L111.64 213.08 L113.19 214.02 L114.73 214.95 L116.28 215.86 L117.83 216.75 L119.37 217.63 L120.92 218.49 L122.47 219.32 L124.01 220.14 L125.56 220.93 L127.11 221.70 L128.65 222.45 L130.20 223.17 L131.74 223.88 L133.29 224.55 L134.84 225.21 L136.38 225.84 L137.93 226.46 L139.48 227.05 L141.02 227.62 L142.57 228.17 L144.12 228.70 L145.66 229.21 L147.21 229.71 L148.75 230.19 L150.30 230.66 L151.85 231.11 L153.39 231.55 L154.94 231.98 L156.49 232.40 L158.03 232.81 L159.58 233.21 L161.13 233.60 L162.67 233.98 L164.22 234.35 L165.77 234.72 L167.31 235.08 L168.86 235.43 L170.40 235.77 L171.95 236.10 L173.50 236.42 L175.04 236.74 L176.59 237.04 L178.14 237.32 L179.68 237.60 L181.23 237.86 L182.78 238.10 L184.32 238.33 L185.87 238.56 L187.41 238.77 L188.96 238.97 L190.51 239.17 L192.05 239.36 L193.60 239.56 L195.15 239.76 L196.69 239.96 L198.24 240.17 L199.79 240.38 L201.33 240.60 L202.88 240.82 L204.42 241.06 L205.97 241.29 L207.52 241.54 L209.06 241.79 L210.61 242.05 L212.16 242.32 L213.70 242.59 L215.25 242.87 L216.80 243.16 L218.34 243.45 L219.89 243.74 L221.44 244.04 L222.98 244.34 L224.53 244.64 L226.07 244.94 L227.62 245.24 L229.17 245.53 L230.71 245.82 L232.26 246.10 L233.81 246.38 L235.35 246.64 L236.90 246.91 L238.45 247.16 L239.99 247.40 L241.54 247.64 L243.08 247.86 L244.63 248.08 L246.18 248.29 L247.72 248.50 L249.27 248.69 L250.82 248.88 L252.36 249.06 L253.91 249.23 L255.46 249.39 L257.00 249.55 L258.55 249.70 L260.09 249.85 L261.64 249.99 L263.19 250.12 L264.73 250.24 L266.28 250.36 L267.83 250.48 L269.37 250.58 L270.92 250.68 L272.47 250.78 L274.01 250.87 L275.56 250.96 L277.11 251.04 L278.65 251.13 L280.20 251.20 L281.74 251.28 L283.29 251.36 L284.84 251.43 L286.38 251.50 L287.93 251.57 L289.48 251.64 L291.02 251.71 L292.57 251.78 L294.12 251.85 L295.66 251.92 L297.21 251.99 L298.75 252.06 L300.30 252.13 L301.85 252.20 L303.39 252.26 L304.94 252.33 L306.49 252.40 L308.03 252.46 L309.58 252.52 L311.13 252.59 L312.67 252.65 L314.22 252.71 L315.77 252.76 L317.31 252.82 L318.86 252.87 L320.40 252.92 L321.95 252.97 L323.50 253.02 L325.04 253.06 L326.59 253.11 L328.14 253.15 L329.68 253.19 L331.23 253.22 L332.78 253.26 L334.32 253.29 L335.87 253.32 L337.41 253.35 L338.96 253.38 L340.51 253.41 L342.05 253.43 L343.60 253.46 L345.15 253.48 L346.69 253.51 L348.24 253.53 L349.79 253.56 L351.33 253.58 L352.88 253.60 L354.42 253.63 L355.97 253.65 L357.52 253.68 L359.06 253.71 L360.61 253.73 L362.16 253.76 L363.70 253.78 L365.25 253.81 L366.80 253.84 L368.34 253.87 L369.89 253.89 L371.44 253.92 L372.98 253.95 L374.53 253.98 L376.07 254.01 L377.62 254.03 L379.17 254.06 L380.71 254.09 L382.26 254.12" fill="none" stroke="#ff00ff" stroke-width="1.6" stroke-linejoin="round"/><rect x="40.60" y="138.20" width="6.00" height="6.00" fill="#ff00ff"/><rect x="46.34" y="149.50" width="6.00" height="6.00" fill="#ff00ff"/><rect x="52.08" y="158.09" width="6.00" height="6.00" fill="#ff00ff"/><rect x="57.82" y="165.53" width="6.00" height="6.00" fill="#ff00ff"/><rect x="63.56" y="172.49" width="6.00" height="6.00" fill="#ff00ff"/><rect x="69.30" y="179.08" width="6.00" height="6.00" fill="#ff00ff"/><rect x="75.04" y="185.08" width="6.00" height="6.00" fill="#ff00ff"/><rect x="80.78" y="190.44" width="6.00" height="6.00" fill="#ff00ff"/><rect x="86.52" y="195.21" width="6.00" height="6.00" fill="#ff00ff"/><rect x="92.26" y="199.47" width="6.00" height="6.00" fill="#ff00ff"/><rect x="98.00" y="203.37" width="6.00" height="6.00" fill="#ff00ff"/><rect x="103.74" y="207.04" width="6.00" height="6.00" fill="#ff00ff"/><rect x="109.48" y="210.59" width="6.00" height="6.00" fill="#ff00ff"/><rect x="115.22" y="213.98" width="6.00" height="6.00" fill="#ff00ff"/><rect x="120.96" y="217.11" width="6.00" height="6.00" fill="#ff00ff"/><rect x="126.70" y="219.94" width="6.00" height="6.00" fill="#ff00ff"/><rect x="132.44" y="222.46" width="6.00" height="6.00" fill="#ff00ff"/><rect x="138.18" y="224.67" width="6.00" height="6.00" fill="#ff00ff"/><rect x="143.92" y="226.62" width="6.00" height="6.00" fill="#ff00ff"/><rect x="149.66" y="228.34" width="6.00" height="6.00" fill="#ff00ff"/><rect x="155.40" y="229.90" width="6.00" height="6.00" fill="#ff00ff"/><rect x="161.14" y="231.33" width="6.00" height="6.00" fill="#ff00ff"/><rect x="166.88" y="232.65" width="6.00" height="6.00" fill="#ff00ff"/><rect x="172.62" y="233.85" width="6.00" height="6.00" fill="#ff00ff"/><rect x="178.36" y="234.88" width="6.00" height="6.00" fill="#ff00ff"/><rect x="184.10" y="235.72" width="6.00" height="6.00" fill="#ff00ff"/><rect x="189.84" y="236.46" width="6.00" height="6.00" fill="#ff00ff"/><rect x="195.58" y="237.21" width="6.00" height="6.00" fill="#ff00ff"/><rect x="201.32" y="238.04" width="6.00" height="6.00" fill="#ff00ff"/><rect x="207.06" y="238.96" width="6.00" height="6.00" fill="#ff00ff"/><rect x="212.80" y="239.98" width="6.00" height="6.00" fill="#ff00ff"/><rect x="218.54" y="241.06" width="6.00" height="6.00" fill="#ff00ff"/><rect x="224.28" y="242.17" width="6.00" height="6.00" fill="#ff00ff"/><rect x="230.02" y="243.24" width="6.00" height="6.00" fill="#ff00ff"/><rect x="235.76" y="244.21" width="6.00" height="6.00" fill="#ff00ff"/><rect x="241.50" y="245.06" width="6.00" height="6.00" fill="#ff00ff"/><rect x="247.24" y="245.81" width="6.00" height="6.00" fill="#ff00ff"/><rect x="252.98" y="246.45" width="6.00" height="6.00" fill="#ff00ff"/><rect x="258.72" y="246.99" width="6.00" height="6.00" fill="#ff00ff"/><rect x="264.46" y="247.45" width="6.00" height="6.00" fill="#ff00ff"/><rect x="270.20" y="247.83" width="6.00" height="6.00" fill="#ff00ff"/><rect x="275.94" y="248.14" width="6.00" height="6.00" fill="#ff00ff"/><rect x="281.68" y="248.42" width="6.00" height="6.00" fill="#ff00ff"/><rect x="287.42" y="248.69" width="6.00" height="6.00" fill="#ff00ff"/><rect x="293.16" y="248.95" width="6.00" height="6.00" fill="#ff00ff"/><rect x="298.90" y="249.20" width="6.00" height="6.00" fill="#ff00ff"/><rect x="304.64" y="249.44" width="6.00" height="6.00" fill="#ff00ff"/><rect x="310.38" y="249.67" width="6.00" height="6.00" fill="#ff00ff"/><rect x="316.12" y="249.88" width="6.00" height="6.00" fill="#ff00ff"/><rect x="321.86" y="250.06" width="6.00" height="6.00" fill="#ff00ff"/><rect x="327.60" y="250.21" width="6.00" height="6.00" fill="#ff00ff"/><rect x="333.34" y="250.33" width="6.00" height="6.00" fill="#ff00ff"/><rect x="339.08" y="250.43" width="6.00" height="6.00" fill="#ff00ff"/><rect x="344.82" y="250.53" width="6.00" height="6.00" fill="#ff00ff"/><rect x="350.56" y="250.62" width="6.00" height="6.00" fill="#ff00ff"/><rect x="356.30" y="250.71" width="6.00" height="6.00" fill="#ff00ff"/><rect x="362.04" y="250.81" width="6.00" height="6.00" fill="#ff00ff"/><rect x="367.78" y="250.91" width="6.00" height="6.00" fill="#ff00ff"/><rect x="373.52" y="251.01" width="6.00" height="6.00" fill="#ff00ff"/><rect x="379.26" y="251.12" width="6.00" height="6.00" fill="#ff00ff"/></g>
<g clip-path="url(#cb)"><path d="M427.60 167.56 L429.00 176.10 L430.40 182.91 L431.80 188.54 L433.20 193.34 L434.60 197.54 L436.01 201.28 L437.41 204.66 L438.81 207.75 L440.21 210.59 L441.61 213.20 L443.01 215.61 L444.41 217.85 L445.81 219.92 L447.21 221.85 L448.61 223.64 L450.01 225.31 L451.42 226.87 L452.82 228.34 L454.22 229.71 L455.62 231.00 L457.02 232.22 L458.42 233.37 L459.82 234.45 L461.22 235.47 L462.62 236.44 L464.02 237.36 L465.42 238.22 L466.83 239.04 L468.23 239.81 L469.63 240.53 L471.03 241.22 L472.43 241.86 L473.83 242.47 L475.23 243.04 L476.63 243.57 L478.03 244.08 L479.43 244.55 L480.83 244.99 L482.24 245.41 L483.64 245.80 L485.04 246.17 L486.44 246.51 L487.84 246.83 L489.24 247.13 L490.64 247.40 L492.04 247.65 L493.44 247.86 L494.84 248.04 L496.24 248.17 L497.65 248.26 L499.05 248.31 L500.45 248.33 L501.85 248.32 L503.25 248.31 L504.65 248.31 L506.05 248.33 L507.45 248.36 L508.85 248.41 L510.25 248.47 L511.65 248.55 L513.06 248.63 L514.46 248.71 L515.86 248.80 L517.26 248.90 L518.66 248.99 L520.06 249.08 L521.46 249.17 L522.86 249.27 L524.26 249.36 L525.66 249.46 L527.06 249.55 L528.47 249.65 L529.87 249.74 L531.27 249.84 L532.67 249.93 L534.07 250.02 L535.47 250.11 L536.87 250.20 L538.27 250.28 L539.67 250.36 L541.07 250.43 L542.47 250.50 L543.88 250.57 L545.28 250.64 L546.68 250.70 L548.08 250.76 L549.48 250.82 L550.88 250.87 L552.28 250.93 L553.68 250.99 L555.08 251.04 L556.48 251.10 L557.88 251.15 L559.29 251.21 L560.69 251.27 L562.09 251.32 L563.49 251.38 L564.89 251.44 L566.29 251.50 L567.69 251.56 L569.09 251.62 L570.49 251.68 L571.89 251.73 L573.29 251.79 L574.70 251.84 L576.10 251.89 L577.50 251.93 L578.90 251.98 L580.30 252.02 L581.70 252.05 L583.10 252.09 L584.50 252.12 L585.90 252.16 L587.30 252.19 L588.71 252.22 L590.11 252.24 L591.51 252.27 L592.91 252.29 L594.31 252.32 L595.71 252.34 L597.11 252.36 L598.51 252.38 L599.91 252.40 L601.31 252.42 L602.71 252.44 L604.12 252.45 L605.52 252.47 L606.92 252.49 L608.32 252.50 L609.72 252.52 L611.12 252.53 L612.52 252.54 L613.92 252.56 L615.32 252.57 L616.72 252.58 L618.12 252.59 L619.53 252.60 L620.93 252.61 L622.33 252.62 L623.73 252.63 L625.13 252.64 L626.53 252.65 L627.93 252.66 L629.33 252.67 L630.73 252.68 L632.13 252.69 L633.53 252.70 L634.94 252.71 L636.34 252.72 L637.74 252.73 L639.14 252.74 L640.54 252.74 L641.94 252.75 L643.34 252.76 L644.74 252.77 L646.14 252.78 L647.54 252.79 L648.94 252.80 L650.35 252.80 L651.75 252.81 L653.15 252.82 L654.55 252.83 L655.95 252.83 L657.35 252.84 L658.75 252.85 L660.15 252.86 L661.55 252.86 L662.95 252.87 L664.35 252.88 L665.76 252.88 L667.16 252.89 L668.56 252.89 L669.96 252.90 L671.36 252.91 L672.76 252.91 L674.16 252.91 L675.56 252.92 L676.96 252.92 L678.36 252.93 L679.76 252.93 L681.17 252.93 L682.57 252.93 L683.97 252.94 L685.37 252.94 L686.77 252.94 L688.17 252.94 L689.57 252.94 L690.97 252.94 L692.37 252.94 L693.77 252.94 L695.17 252.94 L696.58 252.94 L697.98 252.94 L699.38 252.95 L700.78 252.95 L702.18 252.95 L703.58 252.95 L704.98 252.95 L706.38 252.95 L707.78 252.95 L709.18 252.96 L710.58 252.96 L711.99 252.96 L713.39 252.96 L714.79 252.97 L716.19 252.97 L717.59 252.97 L718.99 252.97 L720.39 252.98 L721.79 252.98 L723.19 252.98 L724.59 252.98 L725.99 252.99 L727.40 252.99 L728.80 252.99 L730.20 252.99 L731.60 253.00 L733.00 253.00 L734.40 253.00" fill="none" stroke="#f03c14" stroke-width="1.6" stroke-linejoin="round"/><path d="M427.60 164.26L430.75 169.96L424.45 169.96Z" fill="#f03c14"/><path d="M432.80 188.73L435.95 194.43L429.65 194.43Z" fill="#f03c14"/><path d="M438.00 202.70L441.15 208.40L434.85 208.40Z" fill="#f03c14"/><path d="M443.20 212.63L446.35 218.33L440.05 218.33Z" fill="#f03c14"/><path d="M448.40 220.07L451.55 225.77L445.25 225.77Z" fill="#f03c14"/><path d="M453.60 225.81L456.75 231.51L450.45 231.51Z" fill="#f03c14"/><path d="M458.80 230.37L461.95 236.07L455.65 236.07Z" fill="#f03c14"/><path d="M464.00 234.04L467.15 239.74L460.85 239.74Z" fill="#f03c14"/><path d="M469.20 237.02L472.35 242.72L466.05 242.72Z" fill="#f03c14"/><path d="M474.40 239.40L477.55 245.10L471.25 245.10Z" fill="#f03c14"/><path d="M479.60 241.30L482.75 247.00L476.45 247.00Z" fill="#f03c14"/><path d="M484.80 242.81L487.95 248.51L481.65 248.51Z" fill="#f03c14"/><path d="M490.00 243.98L493.15 249.68L486.85 249.68Z" fill="#f03c14"/><path d="M495.20 244.78L498.35 250.48L492.05 250.48Z" fill="#f03c14"/><path d="M500.40 245.03L503.55 250.73L497.25 250.73Z" fill="#f03c14"/><path d="M505.60 245.02L508.75 250.72L502.45 250.72Z" fill="#f03c14"/><path d="M510.80 245.20L513.95 250.90L507.65 250.90Z" fill="#f03c14"/><path d="M516.00 245.51L519.15 251.21L512.85 251.21Z" fill="#f03c14"/><path d="M521.20 245.86L524.35 251.56L518.05 251.56Z" fill="#f03c14"/><path d="M526.40 246.21L529.55 251.91L523.25 251.91Z" fill="#f03c14"/><path d="M531.60 246.56L534.75 252.26L528.45 252.26Z" fill="#f03c14"/><path d="M536.80 246.89L539.95 252.59L533.65 252.59Z" fill="#f03c14"/><path d="M542.00 247.18L545.15 252.88L538.85 252.88Z" fill="#f03c14"/><path d="M547.20 247.42L550.35 253.12L544.05 253.12Z" fill="#f03c14"/><path d="M552.40 247.63L555.55 253.33L549.25 253.33Z" fill="#f03c14"/><path d="M557.60 247.84L560.75 253.54L554.45 253.54Z" fill="#f03c14"/><path d="M562.80 248.06L565.95 253.76L559.65 253.76Z" fill="#f03c14"/><path d="M568.00 248.28L571.15 253.98L564.85 253.98Z" fill="#f03c14"/><path d="M573.20 248.48L576.35 254.18L570.05 254.18Z" fill="#f03c14"/><path d="M578.40 248.66L581.55 254.36L575.25 254.36Z" fill="#f03c14"/><path d="M583.60 248.80L586.75 254.50L580.45 254.50Z" fill="#f03c14"/><path d="M588.80 248.92L591.95 254.62L585.65 254.62Z" fill="#f03c14"/><path d="M594.00 249.01L597.15 254.71L590.85 254.71Z" fill="#f03c14"/><path d="M599.20 249.09L602.35 254.79L596.05 254.79Z" fill="#f03c14"/><path d="M604.40 249.16L607.55 254.86L601.25 254.86Z" fill="#f03c14"/><path d="M609.60 249.21L612.75 254.91L606.45 254.91Z" fill="#f03c14"/><path d="M614.80 249.26L617.95 254.96L611.65 254.96Z" fill="#f03c14"/><path d="M620.00 249.30L623.15 255.00L616.85 255.00Z" fill="#f03c14"/><path d="M625.20 249.34L628.35 255.04L622.05 255.04Z" fill="#f03c14"/><path d="M630.40 249.38L633.55 255.08L627.25 255.08Z" fill="#f03c14"/><path d="M635.60 249.41L638.75 255.11L632.45 255.11Z" fill="#f03c14"/><path d="M640.80 249.45L643.95 255.15L637.65 255.15Z" fill="#f03c14"/><path d="M646.00 249.48L649.15 255.18L642.85 255.18Z" fill="#f03c14"/><path d="M651.20 249.51L654.35 255.21L648.05 255.21Z" fill="#f03c14"/><path d="M656.40 249.54L659.55 255.24L653.25 255.24Z" fill="#f03c14"/><path d="M661.60 249.56L664.75 255.26L658.45 255.26Z" fill="#f03c14"/><path d="M666.80 249.59L669.95 255.29L663.65 255.29Z" fill="#f03c14"/><path d="M672.00 249.61L675.15 255.31L668.85 255.31Z" fill="#f03c14"/><path d="M677.20 249.62L680.35 255.32L674.05 255.32Z" fill="#f03c14"/><path d="M682.40 249.63L685.55 255.33L679.25 255.33Z" fill="#f03c14"/><path d="M687.60 249.64L690.75 255.34L684.45 255.34Z" fill="#f03c14"/><path d="M692.80 249.64L695.95 255.34L689.65 255.34Z" fill="#f03c14"/><path d="M698.00 249.64L701.15 255.34L694.85 255.34Z" fill="#f03c14"/><path d="M703.20 249.65L706.35 255.35L700.05 255.35Z" fill="#f03c14"/><path d="M708.40 249.65L711.55 255.35L705.25 255.35Z" fill="#f03c14"/><path d="M713.60 249.66L716.75 255.36L710.45 255.36Z" fill="#f03c14"/><path d="M718.80 249.67L721.95 255.37L715.65 255.37Z" fill="#f03c14"/><path d="M724.00 249.68L727.15 255.38L720.85 255.38Z" fill="#f03c14"/><path d="M729.20 249.69L732.35 255.39L726.05 255.39Z" fill="#f03c14"/><path d="M734.40 249.70L737.55 255.40L731.25 255.40Z" fill="#f03c14"/></g>
<g clip-path="url(#cb)"><path d="M427.60 207.78 L429.00 209.62 L430.40 211.38 L431.80 213.08 L433.20 214.71 L434.60 216.29 L436.01 217.83 L437.41 219.31 L438.81 220.74 L440.21 222.12 L441.61 223.44 L443.01 224.70 L444.41 225.91 L445.81 227.06 L447.21 228.16 L448.61 229.21 L450.01 230.21 L451.42 231.17 L452.82 232.09 L454.22 232.97 L455.62 233.82 L457.02 234.63 L458.42 235.40 L459.82 236.15 L461.22 236.85 L462.62 237.53 L464.02 238.17 L465.42 238.78 L466.83 239.36 L468.23 239.91 L469.63 240.44 L471.03 240.93 L472.43 241.41 L473.83 241.86 L475.23 242.28 L476.63 242.69 L478.03 243.08 L479.43 243.45 L480.83 243.80 L482.24 244.14 L483.64 244.46 L485.04 244.77 L486.44 245.06 L487.84 245.34 L489.24 245.60 L490.64 245.86 L492.04 246.10 L493.44 246.34 L494.84 246.56 L496.24 246.77 L497.65 246.98 L499.05 247.17 L500.45 247.36 L501.85 247.54 L503.25 247.71 L504.65 247.87 L506.05 248.02 L507.45 248.16 L508.85 248.27 L510.25 248.37 L511.65 248.42 L513.06 248.44 L514.46 248.41 L515.86 248.37 L517.26 248.32 L518.66 248.30 L520.06 248.31 L521.46 248.35 L522.86 248.40 L524.26 248.47 L525.66 248.54 L527.06 248.61 L528.47 248.69 L529.87 248.76 L531.27 248.84 L532.67 248.91 L534.07 248.97 L535.47 249.04 L536.87 249.11 L538.27 249.17 L539.67 249.23 L541.07 249.29 L542.47 249.34 L543.88 249.40 L545.28 249.45 L546.68 249.51 L548.08 249.56 L549.48 249.61 L550.88 249.67 L552.28 249.72 L553.68 249.78 L555.08 249.83 L556.48 249.89 L557.88 249.95 L559.29 250.01 L560.69 250.08 L562.09 250.15 L563.49 250.21 L564.89 250.28 L566.29 250.35 L567.69 250.42 L569.09 250.49 L570.49 250.56 L571.89 250.63 L573.29 250.69 L574.70 250.75 L576.10 250.81 L577.50 250.86 L578.90 250.91 L580.30 250.96 L581.70 251.01 L583.10 251.05 L584.50 251.09 L585.90 251.12 L587.30 251.16 L588.71 251.19 L590.11 251.22 L591.51 251.25 L592.91 251.28 L594.31 251.30 L595.71 251.33 L597.11 251.35 L598.51 251.38 L599.91 251.40 L601.31 251.42 L602.71 251.45 L604.12 251.47 L605.52 251.49 L606.92 251.51 L608.32 251.54 L609.72 251.56 L611.12 251.59 L612.52 251.61 L613.92 251.63 L615.32 251.66 L616.72 251.68 L618.12 251.71 L619.53 251.73 L620.93 251.76 L622.33 251.78 L623.73 251.80 L625.13 251.82 L626.53 251.84 L627.93 251.86 L629.33 251.88 L630.73 251.90 L632.13 251.92 L633.53 251.94 L634.94 251.95 L636.34 251.97 L637.74 251.98 L639.14 252.00 L640.54 252.01 L641.94 252.02 L643.34 252.03 L644.74 252.05 L646.14 252.06 L647.54 252.07 L648.94 252.08 L650.35 252.09 L651.75 252.10 L653.15 252.12 L654.55 252.13 L655.95 252.14 L657.35 252.15 L658.75 252.16 L660.15 252.17 L661.55 252.18 L662.95 252.18 L664.35 252.19 L665.76 252.20 L667.16 252.21 L668.56 252.22 L669.96 252.23 L671.36 252.23 L672.76 252.24 L674.16 252.25 L675.56 252.25 L676.96 252.26 L678.36 252.26 L679.76 252.26 L681.17 252.27 L682.57 252.27 L683.97 252.27 L685.37 252.27 L686.77 252.27 L688.17 252.27 L689.57 252.27 L690.97 252.27 L692.37 252.27 L693.77 252.27 L695.17 252.27 L696.58 252.27 L697.98 252.28 L699.38 252.28 L700.78 252.28 L702.18 252.28 L703.58 252.28 L704.98 252.29 L706.38 252.29 L707.78 252.29 L709.18 252.30 L710.58 252.30 L711.99 252.31 L713.39 252.31 L714.79 252.32 L716.19 252.32 L717.59 252.33 L718.99 252.33 L720.39 252.34 L721.79 252.34 L723.19 252.35 L724.59 252.36 L725.99 252.36 L727.40 252.37 L728.80 252.38 L730.20 252.38 L731.60 252.39 L733.00 252.40 L734.40 252.40" fill="none" stroke="#8014f5" stroke-width="1.6" stroke-linejoin="round"/><path d="M427.60 211.52L431.17 205.06L424.03 205.06Z" fill="#8014f5"/><path d="M432.80 217.98L436.37 211.52L429.23 211.52Z" fill="#8014f5"/><path d="M438.00 223.66L441.57 217.20L434.43 217.20Z" fill="#8014f5"/><path d="M443.20 228.61L446.77 222.15L439.63 222.15Z" fill="#8014f5"/><path d="M448.40 232.79L451.97 226.33L444.83 226.33Z" fill="#8014f5"/><path d="M453.60 236.33L457.17 229.87L450.03 229.87Z" fill="#8014f5"/><path d="M458.80 239.35L462.37 232.89L455.23 232.89Z" fill="#8014f5"/><path d="M464.00 241.90L467.57 235.44L460.43 235.44Z" fill="#8014f5"/><path d="M469.20 244.02L472.77 237.56L465.63 237.56Z" fill="#8014f5"/><path d="M474.40 245.77L477.97 239.31L470.83 239.31Z" fill="#8014f5"/><path d="M479.60 247.23L483.17 240.77L476.03 240.77Z" fill="#8014f5"/><path d="M484.80 248.45L488.37 241.99L481.23 241.99Z" fill="#8014f5"/><path d="M490.00 249.48L493.57 243.02L486.43 243.02Z" fill="#8014f5"/><path d="M495.20 250.36L498.77 243.90L491.63 243.90Z" fill="#8014f5"/><path d="M500.40 251.09L503.97 244.63L496.83 244.63Z" fill="#8014f5"/><path d="M505.60 251.71L509.17 245.25L502.03 245.25Z" fill="#8014f5"/><path d="M510.80 252.13L514.37 245.67L507.23 245.67Z" fill="#8014f5"/><path d="M516.00 252.10L519.57 245.64L512.43 245.64Z" fill="#8014f5"/><path d="M521.20 252.08L524.77 245.62L517.63 245.62Z" fill="#8014f5"/><path d="M526.40 252.32L529.97 245.86L522.83 245.86Z" fill="#8014f5"/><path d="M531.60 252.59L535.17 246.13L528.03 246.13Z" fill="#8014f5"/><path d="M536.80 252.84L540.37 246.38L533.23 246.38Z" fill="#8014f5"/><path d="M542.00 253.06L545.57 246.60L538.43 246.60Z" fill="#8014f5"/><path d="M547.20 253.27L550.77 246.81L543.63 246.81Z" fill="#8014f5"/><path d="M552.40 253.47L555.97 247.01L548.83 247.01Z" fill="#8014f5"/><path d="M557.60 253.68L561.17 247.22L554.03 247.22Z" fill="#8014f5"/><path d="M562.80 253.92L566.37 247.46L559.23 247.46Z" fill="#8014f5"/><path d="M568.00 254.18L571.57 247.72L564.43 247.72Z" fill="#8014f5"/><path d="M573.20 254.43L576.77 247.97L569.63 247.97Z" fill="#8014f5"/><path d="M578.40 254.64L581.97 248.18L574.83 248.18Z" fill="#8014f5"/><path d="M583.60 254.80L587.17 248.34L580.03 248.34Z" fill="#8014f5"/><path d="M588.80 254.93L592.37 248.47L585.23 248.47Z" fill="#8014f5"/><path d="M594.00 255.04L597.57 248.58L590.43 248.58Z" fill="#8014f5"/><path d="M599.20 255.13L602.77 248.67L595.63 248.67Z" fill="#8014f5"/><path d="M604.40 255.21L607.97 248.75L600.83 248.75Z" fill="#8014f5"/><path d="M609.60 255.30L613.17 248.84L606.03 248.84Z" fill="#8014f5"/><path d="M614.80 255.39L618.37 248.93L611.23 248.93Z" fill="#8014f5"/><path d="M620.00 255.48L623.57 249.02L616.43 249.02Z" fill="#8014f5"/><path d="M625.20 255.56L628.77 249.10L621.63 249.10Z" fill="#8014f5"/><path d="M630.40 255.64L633.97 249.18L626.83 249.18Z" fill="#8014f5"/><path d="M635.60 255.70L639.17 249.24L632.03 249.24Z" fill="#8014f5"/><path d="M640.80 255.75L644.37 249.29L637.23 249.29Z" fill="#8014f5"/><path d="M646.00 255.80L649.57 249.34L642.43 249.34Z" fill="#8014f5"/><path d="M651.20 255.84L654.77 249.38L647.63 249.38Z" fill="#8014f5"/><path d="M656.40 255.88L659.97 249.42L652.83 249.42Z" fill="#8014f5"/><path d="M661.60 255.92L665.17 249.46L658.03 249.46Z" fill="#8014f5"/><path d="M666.80 255.95L670.37 249.49L663.23 249.49Z" fill="#8014f5"/><path d="M672.00 255.98L675.57 249.52L668.43 249.52Z" fill="#8014f5"/><path d="M677.20 256.00L680.77 249.54L673.63 249.54Z" fill="#8014f5"/><path d="M682.40 256.01L685.97 249.55L678.83 249.55Z" fill="#8014f5"/><path d="M687.60 256.01L691.17 249.55L684.03 249.55Z" fill="#8014f5"/><path d="M692.80 256.01L696.37 249.55L689.23 249.55Z" fill="#8014f5"/><path d="M698.00 256.02L701.57 249.56L694.43 249.56Z" fill="#8014f5"/><path d="M703.20 256.02L706.77 249.56L699.63 249.56Z" fill="#8014f5"/><path d="M708.40 256.03L711.97 249.57L704.83 249.57Z" fill="#8014f5"/><path d="M713.60 256.05L717.17 249.59L710.03 249.59Z" fill="#8014f5"/><path d="M718.80 256.07L722.37 249.61L715.23 249.61Z" fill="#8014f5"/><path d="M724.00 256.09L727.57 249.63L720.43 249.63Z" fill="#8014f5"/><path d="M729.20 256.12L732.77 249.66L725.63 249.66Z" fill="#8014f5"/><path d="M734.40 256.14L737.97 249.68L730.83 249.68Z" fill="#8014f5"/></g>
<g clip-path="url(#cb)"><path d="M427.60 30.89 L429.00 36.90 L430.40 42.60 L431.80 48.02 L433.20 53.18 L434.60 58.11 L436.01 62.86 L437.41 67.45 L438.81 71.92 L440.21 76.28 L441.61 80.54 L443.01 84.72 L444.41 88.81 L445.81 92.80 L447.21 96.70 L448.61 100.48 L450.01 104.16 L451.42 107.72 L452.82 111.16 L454.22 114.50 L455.62 117.73 L457.02 120.86 L458.42 123.90 L459.82 126.85 L461.22 129.71 L462.62 132.50 L464.02 135.21 L465.42 137.85 L466.83 140.43 L468.23 142.94 L469.63 145.40 L471.03 147.80 L472.43 150.15 L473.83 152.46 L475.23 154.71 L476.63 156.91 L478.03 159.07 L479.43 161.17 L480.83 163.23 L482.24 165.25 L483.64 167.21 L485.04 169.12 L486.44 170.99 L487.84 172.81 L489.24 174.59 L490.64 176.31 L492.04 177.99 L493.44 179.63 L494.84 181.23 L496.24 182.78 L497.65 184.30 L499.05 185.77 L500.45 187.21 L501.85 188.61 L503.25 189.97 L504.65 191.31 L506.05 192.61 L507.45 193.88 L508.85 195.12 L510.25 196.33 L511.65 197.52 L513.06 198.69 L514.46 199.83 L515.86 200.96 L517.26 202.06 L518.66 203.14 L520.06 204.20 L521.46 205.23 L522.86 206.25 L524.26 207.25 L525.66 208.23 L527.06 209.18 L528.47 210.12 L529.87 211.03 L531.27 211.92 L532.67 212.79 L534.07 213.65 L535.47 214.48 L536.87 215.28 L538.27 216.07 L539.67 216.84 L541.07 217.59 L542.47 218.32 L543.88 219.04 L545.28 219.73 L546.68 220.41 L548.08 221.08 L549.48 221.73 L550.88 222.37 L552.28 222.99 L553.68 223.61 L555.08 224.21 L556.48 224.80 L557.88 225.39 L559.29 225.96 L560.69 226.53 L562.09 227.09 L563.49 227.64 L564.89 228.18 L566.29 228.71 L567.69 229.24 L569.09 229.75 L570.49 230.26 L571.89 230.75 L573.29 231.24 L574.70 231.71 L576.10 232.18 L577.50 232.63 L578.90 233.08 L580.30 233.51 L581.70 233.93 L583.10 234.34 L584.50 234.74 L585.90 235.13 L587.30 235.51 L588.71 235.89 L590.11 236.25 L591.51 236.60 L592.91 236.95 L594.31 237.28 L595.71 237.61 L597.11 237.93 L598.51 238.25 L599.91 238.56 L601.31 238.86 L602.71 239.16 L604.12 239.45 L605.52 239.73 L606.92 240.01 L608.32 240.29 L609.72 240.56 L611.12 240.82 L612.52 241.08 L613.92 241.33 L615.32 241.58 L616.72 241.82 L618.12 242.05 L619.53 242.28 L620.93 242.50 L622.33 242.71 L623.73 242.92 L625.13 243.12 L626.53 243.32 L627.93 243.51 L629.33 243.70 L630.73 243.88 L632.13 244.05 L633.53 244.22 L634.94 244.39 L636.34 244.55 L637.74 244.71 L639.14 244.86 L640.54 245.01 L641.94 245.15 L643.34 245.30 L644.74 245.43 L646.14 245.57 L647.54 245.70 L648.94 245.83 L650.35 245.95 L651.75 246.07 L653.15 246.19 L654.55 246.30 L655.95 246.41 L657.35 246.52 L658.75 246.62 L660.15 246.73 L661.55 246.82 L662.95 246.92 L664.35 247.01 L665.76 247.09 L667.16 247.17 L668.56 247.25 L669.96 247.32 L671.36 247.39 L672.76 247.45 L674.16 247.50 L675.56 247.55 L676.96 247.59 L678.36 247.62 L679.76 247.65 L681.17 247.67 L682.57 247.69 L683.97 247.70 L685.37 247.71 L686.77 247.72 L688.17 247.72 L689.57 247.73 L690.97 247.73 L692.37 247.74 L693.77 247.75 L695.17 247.76 L696.58 247.78 L697.98 247.80 L699.38 247.82 L700.78 247.84 L702.18 247.87 L703.58 247.89 L704.98 247.92 L706.38 247.95 L707.78 247.98 L709.18 248.02 L710.58 248.05 L711.99 248.08 L713.39 248.12 L714.79 248.15 L716.19 248.18 L717.59 248.22 L718.99 248.25 L720.39 248.29 L721.79 248.32 L723.19 248.35 L724.59 248.38 L725.99 248.42 L727.40 248.45 L728.80 248.48 L730.20 248.51 L731.60 248.54 L733.00 248.57 L734.40 248.60" fill="none" stroke="#000000" stroke-width="1.6" stroke-linejoin="round"/><rect x="424.95" y="28.24" width="5.30" height="5.30" fill="#000000"/><rect x="430.15" y="49.07" width="5.30" height="5.30" fill="#000000"/><rect x="435.35" y="66.71" width="5.30" height="5.30" fill="#000000"/><rect x="440.55" y="82.63" width="5.30" height="5.30" fill="#000000"/><rect x="445.75" y="97.26" width="5.30" height="5.30" fill="#000000"/><rect x="450.95" y="110.39" width="5.30" height="5.30" fill="#000000"/><rect x="456.15" y="122.06" width="5.30" height="5.30" fill="#000000"/><rect x="461.35" y="132.51" width="5.30" height="5.30" fill="#000000"/><rect x="466.55" y="142.01" width="5.30" height="5.30" fill="#000000"/><rect x="471.75" y="150.73" width="5.30" height="5.30" fill="#000000"/><rect x="476.95" y="158.77" width="5.30" height="5.30" fill="#000000"/><rect x="482.15" y="166.15" width="5.30" height="5.30" fill="#000000"/><rect x="487.35" y="172.88" width="5.30" height="5.30" fill="#000000"/><rect x="492.55" y="178.98" width="5.30" height="5.30" fill="#000000"/><rect x="497.75" y="184.51" width="5.30" height="5.30" fill="#000000"/><rect x="502.95" y="189.54" width="5.30" height="5.30" fill="#000000"/><rect x="508.15" y="194.15" width="5.30" height="5.30" fill="#000000"/><rect x="513.35" y="198.42" width="5.30" height="5.30" fill="#000000"/><rect x="518.55" y="202.39" width="5.30" height="5.30" fill="#000000"/><rect x="523.75" y="206.08" width="5.30" height="5.30" fill="#000000"/><rect x="528.95" y="209.48" width="5.30" height="5.30" fill="#000000"/><rect x="534.15" y="212.59" width="5.30" height="5.30" fill="#000000"/><rect x="539.35" y="215.43" width="5.30" height="5.30" fill="#000000"/><rect x="544.55" y="218.01" width="5.30" height="5.30" fill="#000000"/><rect x="549.75" y="220.39" width="5.30" height="5.30" fill="#000000"/><rect x="554.95" y="222.62" width="5.30" height="5.30" fill="#000000"/><rect x="560.15" y="224.72" width="5.30" height="5.30" fill="#000000"/><rect x="565.35" y="226.70" width="5.30" height="5.30" fill="#000000"/><rect x="570.55" y="228.55" width="5.30" height="5.30" fill="#000000"/><rect x="575.75" y="230.27" width="5.30" height="5.30" fill="#000000"/><rect x="580.95" y="231.84" width="5.30" height="5.30" fill="#000000"/><rect x="586.15" y="233.26" width="5.30" height="5.30" fill="#000000"/><rect x="591.35" y="234.56" width="5.30" height="5.30" fill="#000000"/><rect x="596.55" y="235.75" width="5.30" height="5.30" fill="#000000"/><rect x="601.75" y="236.86" width="5.30" height="5.30" fill="#000000"/><rect x="606.95" y="237.89" width="5.30" height="5.30" fill="#000000"/><rect x="612.15" y="238.84" width="5.30" height="5.30" fill="#000000"/><rect x="617.35" y="239.70" width="5.30" height="5.30" fill="#000000"/><rect x="622.55" y="240.48" width="5.30" height="5.30" fill="#000000"/><rect x="627.75" y="241.18" width="5.30" height="5.30" fill="#000000"/><rect x="632.95" y="241.82" width="5.30" height="5.30" fill="#000000"/><rect x="638.15" y="242.39" width="5.30" height="5.30" fill="#000000"/><rect x="643.35" y="242.90" width="5.30" height="5.30" fill="#000000"/><rect x="648.55" y="243.37" width="5.30" height="5.30" fill="#000000"/><rect x="653.75" y="243.80" width="5.30" height="5.30" fill="#000000"/><rect x="658.95" y="244.18" width="5.30" height="5.30" fill="#000000"/><rect x="664.15" y="244.50" width="5.30" height="5.30" fill="#000000"/><rect x="669.35" y="244.77" width="5.30" height="5.30" fill="#000000"/><rect x="674.55" y="244.95" width="5.30" height="5.30" fill="#000000"/><rect x="679.75" y="245.04" width="5.30" height="5.30" fill="#000000"/><rect x="684.95" y="245.07" width="5.30" height="5.30" fill="#000000"/><rect x="690.15" y="245.10" width="5.30" height="5.30" fill="#000000"/><rect x="695.35" y="245.15" width="5.30" height="5.30" fill="#000000"/><rect x="700.55" y="245.24" width="5.30" height="5.30" fill="#000000"/><rect x="705.75" y="245.35" width="5.30" height="5.30" fill="#000000"/><rect x="710.95" y="245.47" width="5.30" height="5.30" fill="#000000"/><rect x="716.15" y="245.60" width="5.30" height="5.30" fill="#000000"/><rect x="721.35" y="245.72" width="5.30" height="5.30" fill="#000000"/><rect x="726.55" y="245.84" width="5.30" height="5.30" fill="#000000"/><rect x="731.75" y="245.95" width="5.30" height="5.30" fill="#000000"/></g>
<g clip-path="url(#cb)"><path d="M427.60 66.87 L429.00 72.72 L430.40 78.17 L431.80 83.28 L433.20 88.07 L434.60 92.57 L436.01 96.82 L437.41 100.84 L438.81 104.68 L440.21 108.35 L441.61 111.87 L443.01 115.27 L444.41 118.55 L445.81 121.73 L447.21 124.79 L448.61 127.76 L450.01 130.64 L451.42 133.42 L452.82 136.12 L454.22 138.74 L455.62 141.28 L457.02 143.75 L458.42 146.15 L459.82 148.49 L461.22 150.77 L462.62 152.99 L464.02 155.16 L465.42 157.27 L466.83 159.33 L468.23 161.34 L469.63 163.29 L471.03 165.19 L472.43 167.04 L473.83 168.84 L475.23 170.59 L476.63 172.29 L478.03 173.95 L479.43 175.55 L480.83 177.12 L482.24 178.64 L483.64 180.12 L485.04 181.56 L486.44 182.97 L487.84 184.34 L489.24 185.68 L490.64 186.99 L492.04 188.27 L493.44 189.52 L494.84 190.75 L496.24 191.94 L497.65 193.12 L499.05 194.27 L500.45 195.40 L501.85 196.51 L503.25 197.59 L504.65 198.66 L506.05 199.72 L507.45 200.75 L508.85 201.78 L510.25 202.78 L511.65 203.78 L513.06 204.76 L514.46 205.74 L515.86 206.70 L517.26 207.65 L518.66 208.58 L520.06 209.51 L521.46 210.42 L522.86 211.32 L524.26 212.20 L525.66 213.07 L527.06 213.91 L528.47 214.73 L529.87 215.53 L531.27 216.30 L532.67 217.05 L534.07 217.76 L535.47 218.45 L536.87 219.10 L538.27 219.73 L539.67 220.34 L541.07 220.91 L542.47 221.47 L543.88 222.00 L545.28 222.52 L546.68 223.02 L548.08 223.51 L549.48 223.99 L550.88 224.47 L552.28 224.94 L553.68 225.40 L555.08 225.86 L556.48 226.32 L557.88 226.77 L559.29 227.22 L560.69 227.66 L562.09 228.09 L563.49 228.53 L564.89 228.95 L566.29 229.37 L567.69 229.79 L569.09 230.20 L570.49 230.60 L571.89 231.00 L573.29 231.39 L574.70 231.77 L576.10 232.15 L577.50 232.53 L578.90 232.90 L580.30 233.26 L581.70 233.63 L583.10 233.99 L584.50 234.35 L585.90 234.72 L587.30 235.09 L588.71 235.47 L590.11 235.86 L591.51 236.27 L592.91 236.70 L594.31 237.15 L595.71 237.61 L597.11 238.10 L598.51 238.59 L599.91 239.08 L601.31 239.56 L602.71 240.03 L604.12 240.47 L605.52 240.88 L606.92 241.27 L608.32 241.63 L609.72 241.97 L611.12 242.28 L612.52 242.58 L613.92 242.85 L615.32 243.11 L616.72 243.36 L618.12 243.60 L619.53 243.83 L620.93 244.05 L622.33 244.26 L623.73 244.47 L625.13 244.66 L626.53 244.86 L627.93 245.05 L629.33 245.23 L630.73 245.41 L632.13 245.58 L633.53 245.75 L634.94 245.92 L636.34 246.08 L637.74 246.24 L639.14 246.40 L640.54 246.55 L641.94 246.70 L643.34 246.84 L644.74 246.99 L646.14 247.13 L647.54 247.26 L648.94 247.40 L650.35 247.53 L651.75 247.65 L653.15 247.78 L654.55 247.90 L655.95 248.02 L657.35 248.13 L658.75 248.25 L660.15 248.35 L661.55 248.46 L662.95 248.56 L664.35 248.66 L665.76 248.75 L667.16 248.84 L668.56 248.92 L669.96 249.00 L671.36 249.07 L672.76 249.14 L674.16 249.20 L675.56 249.25 L676.96 249.29 L678.36 249.33 L679.76 249.36 L681.17 249.38 L682.57 249.39 L683.97 249.41 L685.37 249.42 L686.77 249.42 L688.17 249.43 L689.57 249.43 L690.97 249.44 L692.37 249.45 L693.77 249.46 L695.17 249.47 L696.58 249.49 L697.98 249.51 L699.38 249.54 L700.78 249.56 L702.18 249.60 L703.58 249.63 L704.98 249.66 L706.38 249.70 L707.78 249.74 L709.18 249.78 L710.58 249.82 L711.99 249.86 L713.39 249.90 L714.79 249.94 L716.19 249.98 L717.59 250.02 L718.99 250.07 L720.39 250.11 L721.79 250.15 L723.19 250.19 L724.59 250.23 L725.99 250.27 L727.40 250.31 L728.80 250.35 L730.20 250.39 L731.60 250.42 L733.00 250.46 L734.40 250.50" fill="none" stroke="#1a86c8" stroke-width="1.6" stroke-linejoin="round"/><circle cx="427.60" cy="66.87" r="2.90" fill="#1a86c8"/><circle cx="432.80" cy="86.72" r="2.90" fill="#1a86c8"/><circle cx="438.00" cy="102.49" r="2.90" fill="#1a86c8"/><circle cx="443.20" cy="115.72" r="2.90" fill="#1a86c8"/><circle cx="448.40" cy="127.32" r="2.90" fill="#1a86c8"/><circle cx="453.60" cy="137.59" r="2.90" fill="#1a86c8"/><circle cx="458.80" cy="146.79" r="2.90" fill="#1a86c8"/><circle cx="464.00" cy="155.13" r="2.90" fill="#1a86c8"/><circle cx="469.20" cy="162.70" r="2.90" fill="#1a86c8"/><circle cx="474.40" cy="169.56" r="2.90" fill="#1a86c8"/><circle cx="479.60" cy="175.74" r="2.90" fill="#1a86c8"/><circle cx="484.80" cy="181.32" r="2.90" fill="#1a86c8"/><circle cx="490.00" cy="186.40" r="2.90" fill="#1a86c8"/><circle cx="495.20" cy="191.05" r="2.90" fill="#1a86c8"/><circle cx="500.40" cy="195.36" r="2.90" fill="#1a86c8"/><circle cx="505.60" cy="199.38" r="2.90" fill="#1a86c8"/><circle cx="510.80" cy="203.17" r="2.90" fill="#1a86c8"/><circle cx="516.00" cy="206.79" r="2.90" fill="#1a86c8"/><circle cx="521.20" cy="210.25" r="2.90" fill="#1a86c8"/><circle cx="526.40" cy="213.51" r="2.90" fill="#1a86c8"/><circle cx="531.60" cy="216.48" r="2.90" fill="#1a86c8"/><circle cx="536.80" cy="219.07" r="2.90" fill="#1a86c8"/><circle cx="542.00" cy="221.28" r="2.90" fill="#1a86c8"/><circle cx="547.20" cy="223.20" r="2.90" fill="#1a86c8"/><circle cx="552.40" cy="224.98" r="2.90" fill="#1a86c8"/><circle cx="557.60" cy="226.68" r="2.90" fill="#1a86c8"/><circle cx="562.80" cy="228.31" r="2.90" fill="#1a86c8"/><circle cx="568.00" cy="229.88" r="2.90" fill="#1a86c8"/><circle cx="573.20" cy="231.36" r="2.90" fill="#1a86c8"/><circle cx="578.40" cy="232.77" r="2.90" fill="#1a86c8"/><circle cx="583.60" cy="234.12" r="2.90" fill="#1a86c8"/><circle cx="588.80" cy="235.49" r="2.90" fill="#1a86c8"/><circle cx="594.00" cy="237.05" r="2.90" fill="#1a86c8"/><circle cx="599.20" cy="238.83" r="2.90" fill="#1a86c8"/><circle cx="604.40" cy="240.55" r="2.90" fill="#1a86c8"/><circle cx="609.60" cy="241.94" r="2.90" fill="#1a86c8"/><circle cx="614.80" cy="243.02" r="2.90" fill="#1a86c8"/><circle cx="620.00" cy="243.90" r="2.90" fill="#1a86c8"/><circle cx="625.20" cy="244.67" r="2.90" fill="#1a86c8"/><circle cx="630.40" cy="245.37" r="2.90" fill="#1a86c8"/><circle cx="635.60" cy="246.00" r="2.90" fill="#1a86c8"/><circle cx="640.80" cy="246.58" r="2.90" fill="#1a86c8"/><circle cx="646.00" cy="247.11" r="2.90" fill="#1a86c8"/><circle cx="651.20" cy="247.60" r="2.90" fill="#1a86c8"/><circle cx="656.40" cy="248.06" r="2.90" fill="#1a86c8"/><circle cx="661.60" cy="248.46" r="2.90" fill="#1a86c8"/><circle cx="666.80" cy="248.82" r="2.90" fill="#1a86c8"/><circle cx="672.00" cy="249.10" r="2.90" fill="#1a86c8"/><circle cx="677.20" cy="249.30" r="2.90" fill="#1a86c8"/><circle cx="682.40" cy="249.39" r="2.90" fill="#1a86c8"/><circle cx="687.60" cy="249.43" r="2.90" fill="#1a86c8"/><circle cx="692.80" cy="249.45" r="2.90" fill="#1a86c8"/><circle cx="698.00" cy="249.51" r="2.90" fill="#1a86c8"/><circle cx="703.20" cy="249.62" r="2.90" fill="#1a86c8"/><circle cx="708.40" cy="249.75" r="2.90" fill="#1a86c8"/><circle cx="713.60" cy="249.90" r="2.90" fill="#1a86c8"/><circle cx="718.80" cy="250.06" r="2.90" fill="#1a86c8"/><circle cx="724.00" cy="250.21" r="2.90" fill="#1a86c8"/><circle cx="729.20" cy="250.36" r="2.90" fill="#1a86c8"/><circle cx="734.40" cy="250.50" r="2.90" fill="#1a86c8"/></g>
<g clip-path="url(#cb)"><path d="M427.60 97.79 L429.00 102.53 L430.40 106.93 L431.80 111.02 L433.20 114.85 L434.60 118.46 L436.01 121.88 L437.41 125.13 L438.81 128.23 L440.21 131.21 L441.61 134.07 L443.01 136.83 L444.41 139.50 L445.81 142.10 L447.21 144.62 L448.61 147.07 L450.01 149.46 L451.42 151.80 L452.82 154.09 L454.22 156.32 L455.62 158.50 L457.02 160.64 L458.42 162.72 L459.82 164.75 L461.22 166.73 L462.62 168.65 L464.02 170.52 L465.42 172.33 L466.83 174.07 L468.23 175.76 L469.63 177.39 L471.03 178.96 L472.43 180.47 L473.83 181.93 L475.23 183.35 L476.63 184.72 L478.03 186.06 L479.43 187.37 L480.83 188.64 L482.24 189.90 L483.64 191.12 L485.04 192.33 L486.44 193.52 L487.84 194.68 L489.24 195.83 L490.64 196.95 L492.04 198.06 L493.44 199.15 L494.84 200.21 L496.24 201.26 L497.65 202.28 L499.05 203.29 L500.45 204.28 L501.85 205.25 L503.25 206.19 L504.65 207.13 L506.05 208.04 L507.45 208.94 L508.85 209.82 L510.25 210.69 L511.65 211.54 L513.06 212.37 L514.46 213.19 L515.86 214.00 L517.26 214.79 L518.66 215.57 L520.06 216.33 L521.46 217.07 L522.86 217.80 L524.26 218.51 L525.66 219.21 L527.06 219.88 L528.47 220.54 L529.87 221.18 L531.27 221.80 L532.67 222.40 L534.07 222.98 L535.47 223.54 L536.87 224.08 L538.27 224.60 L539.67 225.11 L541.07 225.60 L542.47 226.08 L543.88 226.55 L545.28 227.00 L546.68 227.45 L548.08 227.89 L549.48 228.33 L550.88 228.77 L552.28 229.20 L553.68 229.63 L555.08 230.07 L556.48 230.50 L557.88 230.94 L559.29 231.38 L560.69 231.81 L562.09 232.26 L563.49 232.70 L564.89 233.14 L566.29 233.58 L567.69 234.02 L569.09 234.46 L570.49 234.89 L571.89 235.32 L573.29 235.74 L574.70 236.15 L576.10 236.56 L577.50 236.96 L578.90 237.34 L580.30 237.72 L581.70 238.09 L583.10 238.44 L584.50 238.79 L585.90 239.12 L587.30 239.45 L588.71 239.76 L590.11 240.06 L591.51 240.36 L592.91 240.64 L594.31 240.91 L595.71 241.18 L597.11 241.43 L598.51 241.68 L599.91 241.91 L601.31 242.14 L602.71 242.36 L604.12 242.56 L605.52 242.76 L606.92 242.95 L608.32 243.12 L609.72 243.29 L611.12 243.44 L612.52 243.59 L613.92 243.73 L615.32 243.85 L616.72 243.98 L618.12 244.09 L619.53 244.20 L620.93 244.30 L622.33 244.41 L623.73 244.51 L625.13 244.61 L626.53 244.71 L627.93 244.81 L629.33 244.90 L630.73 245.00 L632.13 245.10 L633.53 245.20 L634.94 245.30 L636.34 245.41 L637.74 245.51 L639.14 245.61 L640.54 245.70 L641.94 245.80 L643.34 245.90 L644.74 246.00 L646.14 246.09 L647.54 246.19 L648.94 246.28 L650.35 246.37 L651.75 246.46 L653.15 246.55 L654.55 246.64 L655.95 246.73 L657.35 246.81 L658.75 246.90 L660.15 246.98 L661.55 247.06 L662.95 247.14 L664.35 247.22 L665.76 247.29 L667.16 247.37 L668.56 247.44 L669.96 247.51 L671.36 247.59 L672.76 247.66 L674.16 247.73 L675.56 247.80 L676.96 247.86 L678.36 247.93 L679.76 248.00 L681.17 248.06 L682.57 248.13 L683.97 248.20 L685.37 248.26 L686.77 248.32 L688.17 248.39 L689.57 248.45 L690.97 248.51 L692.37 248.57 L693.77 248.63 L695.17 248.69 L696.58 248.74 L697.98 248.80 L699.38 248.85 L700.78 248.90 L702.18 248.95 L703.58 249.00 L704.98 249.05 L706.38 249.09 L707.78 249.14 L709.18 249.18 L710.58 249.22 L711.99 249.26 L713.39 249.30 L714.79 249.34 L716.19 249.38 L717.59 249.41 L718.99 249.45 L720.39 249.48 L721.79 249.52 L723.19 249.55 L724.59 249.58 L725.99 249.61 L727.40 249.64 L728.80 249.67 L730.20 249.70 L731.60 249.73 L733.00 249.76 L734.40 249.78" fill="none" stroke="#f0147f" stroke-width="1.6" stroke-linejoin="round"/><path d="M427.60 93.42L431.45 97.79L427.60 102.17L423.75 97.79Z" fill="#f0147f"/><path d="M432.80 109.40L436.65 113.77L432.80 118.15L428.95 113.77Z" fill="#f0147f"/><path d="M438.00 122.08L441.85 126.46L438.00 130.83L434.15 126.46Z" fill="#f0147f"/><path d="M443.20 132.82L447.05 137.20L443.20 141.57L439.35 137.20Z" fill="#f0147f"/><path d="M448.40 142.32L452.25 146.70L448.40 151.07L444.55 146.70Z" fill="#f0147f"/><path d="M453.60 150.97L457.45 155.34L453.60 159.72L449.75 155.34Z" fill="#f0147f"/><path d="M458.80 158.90L462.65 163.28L458.80 167.65L454.95 163.28Z" fill="#f0147f"/><path d="M464.00 166.11L467.85 170.49L464.00 174.86L460.15 170.49Z" fill="#f0147f"/><path d="M469.20 172.52L473.05 176.90L469.20 181.27L465.35 176.90Z" fill="#f0147f"/><path d="M474.40 178.14L478.25 182.52L474.40 186.89L470.55 182.52Z" fill="#f0147f"/><path d="M479.60 183.15L483.45 187.52L479.60 191.90L475.75 187.52Z" fill="#f0147f"/><path d="M484.80 187.75L488.65 192.13L484.80 196.50L480.95 192.13Z" fill="#f0147f"/><path d="M490.00 192.07L493.85 196.44L490.00 200.82L486.15 196.44Z" fill="#f0147f"/><path d="M495.20 196.11L499.05 200.48L495.20 204.86L491.35 200.48Z" fill="#f0147f"/><path d="M500.40 199.87L504.25 204.24L500.40 208.62L496.55 204.24Z" fill="#f0147f"/><path d="M505.60 203.37L509.45 207.75L505.60 212.12L501.75 207.75Z" fill="#f0147f"/><path d="M510.80 206.64L514.65 211.02L510.80 215.39L506.95 211.02Z" fill="#f0147f"/><path d="M516.00 209.71L519.85 214.08L516.00 218.46L512.15 214.08Z" fill="#f0147f"/><path d="M521.20 212.56L525.05 216.94L521.20 221.31L517.35 216.94Z" fill="#f0147f"/><path d="M526.40 215.19L530.25 219.56L526.40 223.94L522.55 219.56Z" fill="#f0147f"/><path d="M531.60 217.57L535.45 221.94L531.60 226.32L527.75 221.94Z" fill="#f0147f"/><path d="M536.80 219.68L540.65 224.05L536.80 228.43L532.95 224.05Z" fill="#f0147f"/><path d="M542.00 221.54L545.85 225.92L542.00 230.29L538.15 225.92Z" fill="#f0147f"/><path d="M547.20 223.24L551.05 227.62L547.20 231.99L543.35 227.62Z" fill="#f0147f"/><path d="M552.40 224.86L556.25 229.24L552.40 233.61L548.55 229.24Z" fill="#f0147f"/><path d="M557.60 226.47L561.45 230.85L557.60 235.22L553.75 230.85Z" fill="#f0147f"/><path d="M562.80 228.10L566.65 232.48L562.80 236.85L558.95 232.48Z" fill="#f0147f"/><path d="M568.00 229.74L571.85 234.12L568.00 238.49L564.15 234.12Z" fill="#f0147f"/><path d="M573.20 231.33L577.05 235.71L573.20 240.08L569.35 235.71Z" fill="#f0147f"/><path d="M578.40 232.83L582.25 237.21L578.40 241.58L574.55 237.21Z" fill="#f0147f"/><path d="M583.60 234.19L587.45 238.57L583.60 242.94L579.75 238.57Z" fill="#f0147f"/><path d="M588.80 235.41L592.65 239.78L588.80 244.16L584.95 239.78Z" fill="#f0147f"/><path d="M594.00 236.48L597.85 240.85L594.00 245.23L590.15 240.85Z" fill="#f0147f"/><path d="M599.20 237.42L603.05 241.79L599.20 246.17L595.35 241.79Z" fill="#f0147f"/><path d="M604.40 238.23L608.25 242.60L604.40 246.98L600.55 242.60Z" fill="#f0147f"/><path d="M609.60 238.90L613.45 243.27L609.60 247.65L605.75 243.27Z" fill="#f0147f"/><path d="M614.80 239.43L618.65 243.81L614.80 248.18L610.95 243.81Z" fill="#f0147f"/><path d="M620.00 239.86L623.85 244.24L620.00 248.61L616.15 244.24Z" fill="#f0147f"/><path d="M625.20 240.24L629.05 244.61L625.20 248.99L621.35 244.61Z" fill="#f0147f"/><path d="M630.40 240.61L634.25 244.98L630.40 249.36L626.55 244.98Z" fill="#f0147f"/><path d="M635.60 240.98L639.45 245.35L635.60 249.73L631.75 245.35Z" fill="#f0147f"/><path d="M640.80 241.35L644.65 245.72L640.80 250.10L636.95 245.72Z" fill="#f0147f"/><path d="M646.00 241.71L649.85 246.08L646.00 250.46L642.15 246.08Z" fill="#f0147f"/><path d="M651.20 242.05L655.05 246.43L651.20 250.80L647.35 246.43Z" fill="#f0147f"/><path d="M656.40 242.38L660.25 246.76L656.40 251.13L652.55 246.76Z" fill="#f0147f"/><path d="M661.60 242.69L665.45 247.06L661.60 251.44L657.75 247.06Z" fill="#f0147f"/><path d="M666.80 242.97L670.65 247.35L666.80 251.72L662.95 247.35Z" fill="#f0147f"/><path d="M672.00 243.24L675.85 247.62L672.00 251.99L668.15 247.62Z" fill="#f0147f"/><path d="M677.20 243.50L681.05 247.88L677.20 252.25L673.35 247.88Z" fill="#f0147f"/><path d="M682.40 243.75L686.25 248.12L682.40 252.50L678.55 248.12Z" fill="#f0147f"/><path d="M687.60 243.99L691.45 248.36L687.60 252.74L683.75 248.36Z" fill="#f0147f"/><path d="M692.80 244.21L696.65 248.59L692.80 252.96L688.95 248.59Z" fill="#f0147f"/><path d="M698.00 244.42L701.85 248.80L698.00 253.17L694.15 248.80Z" fill="#f0147f"/><path d="M703.20 244.61L707.05 248.99L703.20 253.36L699.35 248.99Z" fill="#f0147f"/><path d="M708.40 244.78L712.25 249.16L708.40 253.53L704.55 249.16Z" fill="#f0147f"/><path d="M713.60 244.93L717.45 249.31L713.60 253.68L709.75 249.31Z" fill="#f0147f"/><path d="M718.80 245.07L722.65 249.44L718.80 253.82L714.95 249.44Z" fill="#f0147f"/><path d="M724.00 245.19L727.85 249.57L724.00 253.94L720.15 249.57Z" fill="#f0147f"/><path d="M729.20 245.31L733.05 249.68L729.20 254.06L725.35 249.68Z" fill="#f0147f"/><path d="M734.40 245.41L738.25 249.78L734.40 254.16L730.55 249.78Z" fill="#f0147f"/></g>
<g font-family='"Liberation Sans", sans-serif' font-weight="bold" fill="#000">
<g font-size="20"><text x="95.26" y="302.9" text-anchor="middle">0.5</text><text x="152.66" y="302.9" text-anchor="middle">1.0</text><text x="210.06" y="302.9" text-anchor="middle">1.5</text><text x="267.46" y="302.9" text-anchor="middle">2.0</text><text x="324.86" y="302.9" text-anchor="middle">2.5</text><text x="382.26" y="302.9" text-anchor="middle">3.0</text><text x="474.40" y="302.9" text-anchor="middle">0.5</text><text x="526.40" y="302.9" text-anchor="middle">1.0</text><text x="578.40" y="302.9" text-anchor="middle">1.5</text><text x="630.40" y="302.9" text-anchor="middle">2.0</text><text x="682.40" y="302.9" text-anchor="middle">2.5</text><text x="734.40" y="302.9" text-anchor="middle">3.0</text></g>
<text x="206.5" y="330.1" font-size="26" text-anchor="middle">Time (ms)</text>
<text x="581.4" y="330.6" font-size="26" text-anchor="middle">Time (ms)</text>
<text transform="translate(24.8,236) rotate(-90)" font-size="27">Intensity (a.u.)</text>
<text transform="translate(411.9,245.5) rotate(-90)" font-size="27">Intensity (a.u.)</text>
<text transform="translate(0,25) scale(1.035,1)" font-size="25">(a)</text>
<text transform="translate(390,25.5) scale(1.06,1)" font-size="25">(b)</text>
<path d="M98.3 24.9 C98.6 22.1 101.2 20.9 102.4 23.5 L106.2 32.9 C107.0 35.1 108.7 35.3 109.7 33.1" fill="none" stroke="#000" stroke-width="2.4"/><path d="M103.0 27.0 L104.3 28.6 L99.9 36.7 L97.4 36.7 Z" fill="#000"/><text x="108.7" y="46.6" font-size="15">ex</text><text x="132.0" y="36.7" font-size="24">=</text><text x="152.7" y="36.7" font-size="24">266</text><text x="200.2" y="36.7" font-size="24">nm</text>
<path d="M462.7 24.9 C463.0 22.1 465.6 20.9 466.8 23.5 L470.6 32.9 C471.4 35.1 473.1 35.3 474.1 33.1" fill="none" stroke="#000" stroke-width="2.4"/><path d="M467.4 27.0 L468.7 28.6 L464.3 36.7 L461.8 36.7 Z" fill="#000"/><text x="473.1" y="46.6" font-size="15">ex</text><text x="496.4" y="36.7" font-size="24">=</text><text x="517.1" y="36.7" font-size="24">395</text><text x="564.6" y="36.7" font-size="24">nm</text>
</g>
<line x1="213.00" y1="70.9" x2="250.50" y2="70.9" stroke="#0000ff" stroke-width="2"/>
<path d="M231.80 64.70L237.80 74.70L225.80 74.70Z" fill="#0000ff"/>
<text x="260.2" y="74.0" font-family='"Liberation Sans", sans-serif' font-weight="bold" font-size="15.4">0</text>
<line x1="213.65" y1="89.7" x2="251.10" y2="89.7" stroke="#ff00ff" stroke-width="2"/>
<rect x="228.10" y="85.20" width="9.00" height="9.00" fill="#ff00ff"/>
<text x="260.2" y="92.8" font-family='"Liberation Sans", sans-serif' font-weight="bold" font-size="15.4">2</text>
<line x1="214.30" y1="109.0" x2="251.70" y2="109.0" stroke="#000000" stroke-width="2"/>
<rect x="229.00" y="104.90" width="8.40" height="8.20" fill="#000000"/>
<text x="260.2" y="113.7" font-family='"Liberation Sans", sans-serif' font-weight="bold" font-size="15.4">5</text>
<line x1="214.95" y1="128.3" x2="252.30" y2="128.3" stroke="#ff0000" stroke-width="2"/>
<ellipse cx="233.70" cy="128.30" rx="5.10" ry="4.80" fill="#ff0000"/>
<text x="260.2" y="133.5" font-family='"Liberation Sans", sans-serif' font-weight="bold" font-size="15.4">7</text>
<line x1="215.60" y1="149.8" x2="252.90" y2="149.8" stroke="#008080" stroke-width="2"/>
<path d="M241.90 149.80L231.10 144.05L231.10 155.55Z" fill="#008080"/>
<text x="260.2" y="156.6" font-family='"Liberation Sans", sans-serif' font-weight="bold" font-size="15.4">10at%Li<tspan font-size="9.5" dy="-7.5">+</tspan></text>
<line x1="577.7" y1="56.9" x2="612.8" y2="56.9" stroke="#f03c14" stroke-width="2"/>
<path d="M595.60 50.64L601.25 60.74L589.95 60.74Z" fill="#f03c14"/>
<text x="661.2" y="61.8" font-family='"Liberation Sans", sans-serif' font-weight="bold" font-size="14.4">0</text>
<line x1="577.7" y1="73.6" x2="612.8" y2="73.6" stroke="#1a86c8" stroke-width="2"/>
<ellipse cx="594.50" cy="73.60" rx="4.90" ry="5.10" fill="#1a86c8"/>
<text x="661.2" y="81.0" font-family='"Liberation Sans", sans-serif' font-weight="bold" font-size="14.4">2</text>
<line x1="577.7" y1="93.1" x2="612.8" y2="93.1" stroke="#000000" stroke-width="2"/>
<rect x="590.25" y="88.80" width="8.70" height="8.60" fill="#000000"/>
<text x="661.2" y="99.8" font-family='"Liberation Sans", sans-serif' font-weight="bold" font-size="14.4">5</text>
<line x1="577.7" y1="114.6" x2="612.8" y2="114.6" stroke="#f0147f" stroke-width="2"/>
<path d="M595.20 108.35L600.80 114.60L595.20 120.85L589.60 114.60Z" fill="#f0147f"/>
<text x="661.2" y="117.7" font-family='"Liberation Sans", sans-serif' font-weight="bold" font-size="14.4">7</text>
<line x1="577.7" y1="133.7" x2="612.8" y2="133.7" stroke="#8014f5" stroke-width="2"/>
<path d="M596.40 141.48L602.25 130.68L590.55 130.68Z" fill="#8014f5"/>
<text x="661.2" y="139.8" font-family='"Liberation Sans", sans-serif' font-weight="bold" font-size="14.4">10at% Li<tspan font-size="8.5" dy="-8">+</tspan></text>
</svg>
</body></html>
